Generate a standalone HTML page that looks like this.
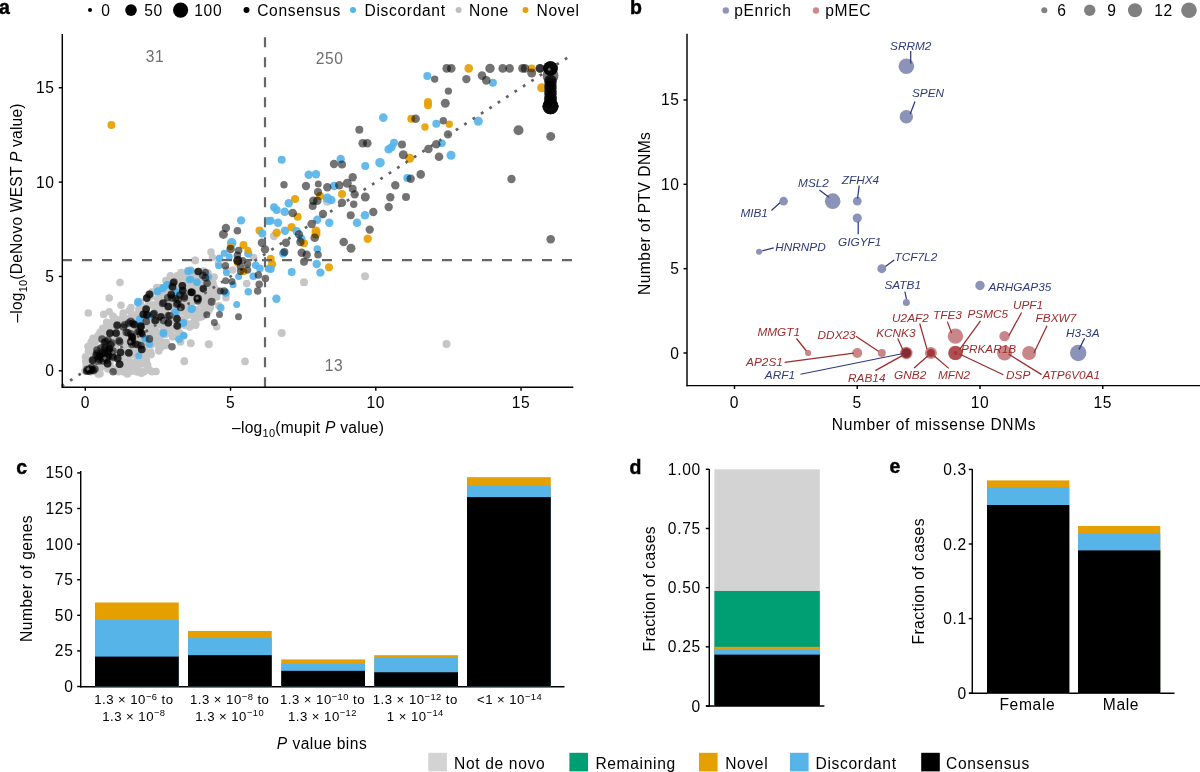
<!DOCTYPE html>
<html><head><meta charset="utf-8"><style>
html,body{margin:0;padding:0;background:#fff;}
svg{display:block;font-family:"Liberation Sans", sans-serif;will-change:transform;letter-spacing:0.65px;}
</style></head><body>
<svg width="1200" height="772" viewBox="0 0 1200 772">
<rect width="1200" height="772" fill="#fff"/>
<text x="-1.00" y="13.70" font-size="19.5" font-weight="bold" fill="#000" stroke="#000" stroke-width="0.45">a</text>
<text x="630.00" y="13.70" font-size="19.5" font-weight="bold" fill="#000" stroke="#000" stroke-width="0.45">b</text>
<text x="16.20" y="473.80" font-size="19.5" font-weight="bold" fill="#000" stroke="#000" stroke-width="0.45">c</text>
<text x="629.60" y="473.80" font-size="19.5" font-weight="bold" fill="#000" stroke="#000" stroke-width="0.45">d</text>
<text x="889.50" y="473.40" font-size="19.5" font-weight="bold" fill="#000" stroke="#000" stroke-width="0.45">e</text>
<circle cx="188.14" cy="270.79" r="3.80" fill="#C6C6C6" fill-opacity="1.0"/>
<circle cx="190.62" cy="270.06" r="3.80" fill="#C6C6C6" fill-opacity="1.0"/>
<circle cx="203.53" cy="271.07" r="3.80" fill="#C6C6C6" fill-opacity="1.0"/>
<circle cx="177.21" cy="275.71" r="3.80" fill="#C6C6C6" fill-opacity="1.0"/>
<circle cx="181.07" cy="272.52" r="3.80" fill="#C6C6C6" fill-opacity="1.0"/>
<circle cx="187.11" cy="272.95" r="3.80" fill="#C6C6C6" fill-opacity="1.0"/>
<circle cx="190.44" cy="272.65" r="3.80" fill="#C6C6C6" fill-opacity="1.0"/>
<circle cx="195.20" cy="272.81" r="3.80" fill="#C6C6C6" fill-opacity="1.0"/>
<circle cx="201.25" cy="273.22" r="3.80" fill="#C6C6C6" fill-opacity="1.0"/>
<circle cx="208.04" cy="273.16" r="3.80" fill="#C6C6C6" fill-opacity="1.0"/>
<circle cx="165.98" cy="280.66" r="3.80" fill="#C6C6C6" fill-opacity="1.0"/>
<circle cx="171.24" cy="278.23" r="3.80" fill="#C6C6C6" fill-opacity="1.0"/>
<circle cx="175.00" cy="278.33" r="3.80" fill="#C6C6C6" fill-opacity="1.0"/>
<circle cx="181.90" cy="278.81" r="3.80" fill="#C6C6C6" fill-opacity="1.0"/>
<circle cx="185.80" cy="278.82" r="3.80" fill="#C6C6C6" fill-opacity="1.0"/>
<circle cx="190.02" cy="277.86" r="3.80" fill="#C6C6C6" fill-opacity="1.0"/>
<circle cx="195.36" cy="278.40" r="3.80" fill="#C6C6C6" fill-opacity="1.0"/>
<circle cx="200.17" cy="276.89" r="3.80" fill="#C6C6C6" fill-opacity="1.0"/>
<circle cx="206.22" cy="277.73" r="3.80" fill="#C6C6C6" fill-opacity="1.0"/>
<circle cx="212.34" cy="278.92" r="3.80" fill="#C6C6C6" fill-opacity="1.0"/>
<circle cx="167.95" cy="282.61" r="3.80" fill="#C6C6C6" fill-opacity="1.0"/>
<circle cx="170.30" cy="282.66" r="3.80" fill="#C6C6C6" fill-opacity="1.0"/>
<circle cx="177.92" cy="282.42" r="3.80" fill="#C6C6C6" fill-opacity="1.0"/>
<circle cx="182.96" cy="285.50" r="3.80" fill="#C6C6C6" fill-opacity="1.0"/>
<circle cx="186.98" cy="283.13" r="3.80" fill="#C6C6C6" fill-opacity="1.0"/>
<circle cx="191.92" cy="284.33" r="3.80" fill="#C6C6C6" fill-opacity="1.0"/>
<circle cx="198.07" cy="284.07" r="3.80" fill="#C6C6C6" fill-opacity="1.0"/>
<circle cx="202.57" cy="281.91" r="3.80" fill="#C6C6C6" fill-opacity="1.0"/>
<circle cx="205.59" cy="282.62" r="3.80" fill="#C6C6C6" fill-opacity="1.0"/>
<circle cx="212.97" cy="282.82" r="3.80" fill="#C6C6C6" fill-opacity="1.0"/>
<circle cx="156.80" cy="287.61" r="3.80" fill="#C6C6C6" fill-opacity="1.0"/>
<circle cx="160.56" cy="287.78" r="3.80" fill="#C6C6C6" fill-opacity="1.0"/>
<circle cx="166.26" cy="289.76" r="3.80" fill="#C6C6C6" fill-opacity="1.0"/>
<circle cx="170.01" cy="289.40" r="3.80" fill="#C6C6C6" fill-opacity="1.0"/>
<circle cx="178.36" cy="286.88" r="3.80" fill="#C6C6C6" fill-opacity="1.0"/>
<circle cx="183.71" cy="289.25" r="3.80" fill="#C6C6C6" fill-opacity="1.0"/>
<circle cx="188.61" cy="287.56" r="3.80" fill="#C6C6C6" fill-opacity="1.0"/>
<circle cx="191.49" cy="287.97" r="3.80" fill="#C6C6C6" fill-opacity="1.0"/>
<circle cx="199.00" cy="288.76" r="3.80" fill="#C6C6C6" fill-opacity="1.0"/>
<circle cx="201.44" cy="288.11" r="3.80" fill="#C6C6C6" fill-opacity="1.0"/>
<circle cx="206.10" cy="286.59" r="3.80" fill="#C6C6C6" fill-opacity="1.0"/>
<circle cx="210.41" cy="289.74" r="3.80" fill="#C6C6C6" fill-opacity="1.0"/>
<circle cx="216.14" cy="290.14" r="3.80" fill="#C6C6C6" fill-opacity="1.0"/>
<circle cx="151.99" cy="292.08" r="3.80" fill="#C6C6C6" fill-opacity="1.0"/>
<circle cx="158.63" cy="295.19" r="3.80" fill="#C6C6C6" fill-opacity="1.0"/>
<circle cx="161.80" cy="291.76" r="3.80" fill="#C6C6C6" fill-opacity="1.0"/>
<circle cx="165.77" cy="291.56" r="3.80" fill="#C6C6C6" fill-opacity="1.0"/>
<circle cx="171.37" cy="291.56" r="3.80" fill="#C6C6C6" fill-opacity="1.0"/>
<circle cx="175.96" cy="292.23" r="3.80" fill="#C6C6C6" fill-opacity="1.0"/>
<circle cx="182.28" cy="294.75" r="3.80" fill="#C6C6C6" fill-opacity="1.0"/>
<circle cx="188.00" cy="292.85" r="3.80" fill="#C6C6C6" fill-opacity="1.0"/>
<circle cx="191.66" cy="293.30" r="3.80" fill="#C6C6C6" fill-opacity="1.0"/>
<circle cx="196.51" cy="292.55" r="3.80" fill="#C6C6C6" fill-opacity="1.0"/>
<circle cx="200.25" cy="292.31" r="3.80" fill="#C6C6C6" fill-opacity="1.0"/>
<circle cx="208.87" cy="291.70" r="3.80" fill="#C6C6C6" fill-opacity="1.0"/>
<circle cx="212.01" cy="293.72" r="3.80" fill="#C6C6C6" fill-opacity="1.0"/>
<circle cx="218.45" cy="292.06" r="3.80" fill="#C6C6C6" fill-opacity="1.0"/>
<circle cx="147.58" cy="297.22" r="3.80" fill="#C6C6C6" fill-opacity="1.0"/>
<circle cx="150.51" cy="297.01" r="3.80" fill="#C6C6C6" fill-opacity="1.0"/>
<circle cx="157.55" cy="298.79" r="3.80" fill="#C6C6C6" fill-opacity="1.0"/>
<circle cx="160.45" cy="296.28" r="3.80" fill="#C6C6C6" fill-opacity="1.0"/>
<circle cx="167.10" cy="298.33" r="3.80" fill="#C6C6C6" fill-opacity="1.0"/>
<circle cx="171.55" cy="296.89" r="3.80" fill="#C6C6C6" fill-opacity="1.0"/>
<circle cx="177.40" cy="296.04" r="3.80" fill="#C6C6C6" fill-opacity="1.0"/>
<circle cx="181.21" cy="297.84" r="3.80" fill="#C6C6C6" fill-opacity="1.0"/>
<circle cx="188.84" cy="298.58" r="3.80" fill="#C6C6C6" fill-opacity="1.0"/>
<circle cx="193.54" cy="297.90" r="3.80" fill="#C6C6C6" fill-opacity="1.0"/>
<circle cx="195.94" cy="296.99" r="3.80" fill="#C6C6C6" fill-opacity="1.0"/>
<circle cx="203.84" cy="298.82" r="3.80" fill="#C6C6C6" fill-opacity="1.0"/>
<circle cx="206.23" cy="296.09" r="3.80" fill="#C6C6C6" fill-opacity="1.0"/>
<circle cx="211.99" cy="298.70" r="3.80" fill="#C6C6C6" fill-opacity="1.0"/>
<circle cx="216.68" cy="297.03" r="3.80" fill="#C6C6C6" fill-opacity="1.0"/>
<circle cx="140.24" cy="302.37" r="3.80" fill="#C6C6C6" fill-opacity="1.0"/>
<circle cx="148.59" cy="304.33" r="3.80" fill="#C6C6C6" fill-opacity="1.0"/>
<circle cx="152.93" cy="304.79" r="3.80" fill="#C6C6C6" fill-opacity="1.0"/>
<circle cx="158.73" cy="302.12" r="3.80" fill="#C6C6C6" fill-opacity="1.0"/>
<circle cx="160.74" cy="304.54" r="3.80" fill="#C6C6C6" fill-opacity="1.0"/>
<circle cx="167.99" cy="300.93" r="3.80" fill="#C6C6C6" fill-opacity="1.0"/>
<circle cx="172.66" cy="302.31" r="3.80" fill="#C6C6C6" fill-opacity="1.0"/>
<circle cx="176.50" cy="302.13" r="3.80" fill="#C6C6C6" fill-opacity="1.0"/>
<circle cx="180.68" cy="300.81" r="3.80" fill="#C6C6C6" fill-opacity="1.0"/>
<circle cx="186.12" cy="302.21" r="3.80" fill="#C6C6C6" fill-opacity="1.0"/>
<circle cx="193.82" cy="301.29" r="3.80" fill="#C6C6C6" fill-opacity="1.0"/>
<circle cx="198.86" cy="301.63" r="3.80" fill="#C6C6C6" fill-opacity="1.0"/>
<circle cx="201.43" cy="304.09" r="3.80" fill="#C6C6C6" fill-opacity="1.0"/>
<circle cx="208.29" cy="302.53" r="3.80" fill="#C6C6C6" fill-opacity="1.0"/>
<circle cx="210.20" cy="302.69" r="3.80" fill="#C6C6C6" fill-opacity="1.0"/>
<circle cx="130.94" cy="307.50" r="3.80" fill="#C6C6C6" fill-opacity="1.0"/>
<circle cx="138.83" cy="309.42" r="3.80" fill="#C6C6C6" fill-opacity="1.0"/>
<circle cx="141.55" cy="306.60" r="3.80" fill="#C6C6C6" fill-opacity="1.0"/>
<circle cx="146.72" cy="307.57" r="3.80" fill="#C6C6C6" fill-opacity="1.0"/>
<circle cx="153.71" cy="306.33" r="3.80" fill="#C6C6C6" fill-opacity="1.0"/>
<circle cx="158.21" cy="308.55" r="3.80" fill="#C6C6C6" fill-opacity="1.0"/>
<circle cx="163.29" cy="308.69" r="3.80" fill="#C6C6C6" fill-opacity="1.0"/>
<circle cx="167.43" cy="306.91" r="3.80" fill="#C6C6C6" fill-opacity="1.0"/>
<circle cx="171.28" cy="307.05" r="3.80" fill="#C6C6C6" fill-opacity="1.0"/>
<circle cx="178.13" cy="305.92" r="3.80" fill="#C6C6C6" fill-opacity="1.0"/>
<circle cx="180.79" cy="308.61" r="3.80" fill="#C6C6C6" fill-opacity="1.0"/>
<circle cx="185.99" cy="305.86" r="3.80" fill="#C6C6C6" fill-opacity="1.0"/>
<circle cx="190.14" cy="307.81" r="3.80" fill="#C6C6C6" fill-opacity="1.0"/>
<circle cx="196.30" cy="309.52" r="3.80" fill="#C6C6C6" fill-opacity="1.0"/>
<circle cx="203.53" cy="309.55" r="3.80" fill="#C6C6C6" fill-opacity="1.0"/>
<circle cx="206.06" cy="305.94" r="3.80" fill="#C6C6C6" fill-opacity="1.0"/>
<circle cx="210.39" cy="307.59" r="3.80" fill="#C6C6C6" fill-opacity="1.0"/>
<circle cx="123.23" cy="313.01" r="3.80" fill="#C6C6C6" fill-opacity="1.0"/>
<circle cx="128.96" cy="310.81" r="3.80" fill="#C6C6C6" fill-opacity="1.0"/>
<circle cx="131.90" cy="313.68" r="3.80" fill="#C6C6C6" fill-opacity="1.0"/>
<circle cx="138.36" cy="314.06" r="3.80" fill="#C6C6C6" fill-opacity="1.0"/>
<circle cx="140.16" cy="311.57" r="3.80" fill="#C6C6C6" fill-opacity="1.0"/>
<circle cx="145.48" cy="311.16" r="3.80" fill="#C6C6C6" fill-opacity="1.0"/>
<circle cx="153.89" cy="312.73" r="3.80" fill="#C6C6C6" fill-opacity="1.0"/>
<circle cx="158.72" cy="311.89" r="3.80" fill="#C6C6C6" fill-opacity="1.0"/>
<circle cx="163.46" cy="312.20" r="3.80" fill="#C6C6C6" fill-opacity="1.0"/>
<circle cx="166.04" cy="313.51" r="3.80" fill="#C6C6C6" fill-opacity="1.0"/>
<circle cx="173.78" cy="310.82" r="3.80" fill="#C6C6C6" fill-opacity="1.0"/>
<circle cx="177.38" cy="312.88" r="3.80" fill="#C6C6C6" fill-opacity="1.0"/>
<circle cx="180.87" cy="311.87" r="3.80" fill="#C6C6C6" fill-opacity="1.0"/>
<circle cx="185.57" cy="311.22" r="3.80" fill="#C6C6C6" fill-opacity="1.0"/>
<circle cx="191.02" cy="312.80" r="3.80" fill="#C6C6C6" fill-opacity="1.0"/>
<circle cx="197.61" cy="311.21" r="3.80" fill="#C6C6C6" fill-opacity="1.0"/>
<circle cx="200.05" cy="311.71" r="3.80" fill="#C6C6C6" fill-opacity="1.0"/>
<circle cx="207.71" cy="311.14" r="3.80" fill="#C6C6C6" fill-opacity="1.0"/>
<circle cx="112.91" cy="316.01" r="3.80" fill="#C6C6C6" fill-opacity="1.0"/>
<circle cx="115.02" cy="318.81" r="3.80" fill="#C6C6C6" fill-opacity="1.0"/>
<circle cx="121.70" cy="318.48" r="3.80" fill="#C6C6C6" fill-opacity="1.0"/>
<circle cx="126.62" cy="318.73" r="3.80" fill="#C6C6C6" fill-opacity="1.0"/>
<circle cx="131.84" cy="315.85" r="3.80" fill="#C6C6C6" fill-opacity="1.0"/>
<circle cx="135.06" cy="317.41" r="3.80" fill="#C6C6C6" fill-opacity="1.0"/>
<circle cx="142.56" cy="318.84" r="3.80" fill="#C6C6C6" fill-opacity="1.0"/>
<circle cx="145.36" cy="317.69" r="3.80" fill="#C6C6C6" fill-opacity="1.0"/>
<circle cx="151.48" cy="317.22" r="3.80" fill="#C6C6C6" fill-opacity="1.0"/>
<circle cx="155.58" cy="316.33" r="3.80" fill="#C6C6C6" fill-opacity="1.0"/>
<circle cx="162.08" cy="318.90" r="3.80" fill="#C6C6C6" fill-opacity="1.0"/>
<circle cx="165.44" cy="317.16" r="3.80" fill="#C6C6C6" fill-opacity="1.0"/>
<circle cx="173.22" cy="319.07" r="3.80" fill="#C6C6C6" fill-opacity="1.0"/>
<circle cx="175.79" cy="315.71" r="3.80" fill="#C6C6C6" fill-opacity="1.0"/>
<circle cx="183.77" cy="319.10" r="3.80" fill="#C6C6C6" fill-opacity="1.0"/>
<circle cx="186.93" cy="315.41" r="3.80" fill="#C6C6C6" fill-opacity="1.0"/>
<circle cx="193.70" cy="316.75" r="3.80" fill="#C6C6C6" fill-opacity="1.0"/>
<circle cx="198.62" cy="317.68" r="3.80" fill="#C6C6C6" fill-opacity="1.0"/>
<circle cx="203.30" cy="315.84" r="3.80" fill="#C6C6C6" fill-opacity="1.0"/>
<circle cx="106.68" cy="322.33" r="3.80" fill="#C6C6C6" fill-opacity="1.0"/>
<circle cx="111.70" cy="322.64" r="3.80" fill="#C6C6C6" fill-opacity="1.0"/>
<circle cx="116.79" cy="321.75" r="3.80" fill="#C6C6C6" fill-opacity="1.0"/>
<circle cx="120.09" cy="322.48" r="3.80" fill="#C6C6C6" fill-opacity="1.0"/>
<circle cx="126.96" cy="320.94" r="3.80" fill="#C6C6C6" fill-opacity="1.0"/>
<circle cx="133.05" cy="323.12" r="3.80" fill="#C6C6C6" fill-opacity="1.0"/>
<circle cx="136.83" cy="320.72" r="3.80" fill="#C6C6C6" fill-opacity="1.0"/>
<circle cx="141.89" cy="320.43" r="3.80" fill="#C6C6C6" fill-opacity="1.0"/>
<circle cx="145.51" cy="321.72" r="3.80" fill="#C6C6C6" fill-opacity="1.0"/>
<circle cx="150.37" cy="321.77" r="3.80" fill="#C6C6C6" fill-opacity="1.0"/>
<circle cx="157.04" cy="320.16" r="3.80" fill="#C6C6C6" fill-opacity="1.0"/>
<circle cx="162.55" cy="320.33" r="3.80" fill="#C6C6C6" fill-opacity="1.0"/>
<circle cx="167.93" cy="323.11" r="3.80" fill="#C6C6C6" fill-opacity="1.0"/>
<circle cx="172.05" cy="320.22" r="3.80" fill="#C6C6C6" fill-opacity="1.0"/>
<circle cx="177.02" cy="321.51" r="3.80" fill="#C6C6C6" fill-opacity="1.0"/>
<circle cx="183.80" cy="320.54" r="3.80" fill="#C6C6C6" fill-opacity="1.0"/>
<circle cx="188.43" cy="323.98" r="3.80" fill="#C6C6C6" fill-opacity="1.0"/>
<circle cx="192.93" cy="323.26" r="3.80" fill="#C6C6C6" fill-opacity="1.0"/>
<circle cx="195.77" cy="323.93" r="3.80" fill="#C6C6C6" fill-opacity="1.0"/>
<circle cx="102.72" cy="328.38" r="3.80" fill="#C6C6C6" fill-opacity="1.0"/>
<circle cx="105.67" cy="327.94" r="3.80" fill="#C6C6C6" fill-opacity="1.0"/>
<circle cx="110.46" cy="326.92" r="3.80" fill="#C6C6C6" fill-opacity="1.0"/>
<circle cx="117.55" cy="326.24" r="3.80" fill="#C6C6C6" fill-opacity="1.0"/>
<circle cx="123.49" cy="327.02" r="3.80" fill="#C6C6C6" fill-opacity="1.0"/>
<circle cx="127.32" cy="328.33" r="3.80" fill="#C6C6C6" fill-opacity="1.0"/>
<circle cx="130.42" cy="328.77" r="3.80" fill="#C6C6C6" fill-opacity="1.0"/>
<circle cx="137.52" cy="326.38" r="3.80" fill="#C6C6C6" fill-opacity="1.0"/>
<circle cx="143.19" cy="325.86" r="3.80" fill="#C6C6C6" fill-opacity="1.0"/>
<circle cx="148.96" cy="327.11" r="3.80" fill="#C6C6C6" fill-opacity="1.0"/>
<circle cx="151.44" cy="327.86" r="3.80" fill="#C6C6C6" fill-opacity="1.0"/>
<circle cx="156.77" cy="325.51" r="3.80" fill="#C6C6C6" fill-opacity="1.0"/>
<circle cx="162.97" cy="324.99" r="3.80" fill="#C6C6C6" fill-opacity="1.0"/>
<circle cx="168.28" cy="325.81" r="3.80" fill="#C6C6C6" fill-opacity="1.0"/>
<circle cx="172.56" cy="328.74" r="3.80" fill="#C6C6C6" fill-opacity="1.0"/>
<circle cx="177.34" cy="327.45" r="3.80" fill="#C6C6C6" fill-opacity="1.0"/>
<circle cx="181.25" cy="324.81" r="3.80" fill="#C6C6C6" fill-opacity="1.0"/>
<circle cx="185.14" cy="325.40" r="3.80" fill="#C6C6C6" fill-opacity="1.0"/>
<circle cx="100.05" cy="332.18" r="3.80" fill="#C6C6C6" fill-opacity="1.0"/>
<circle cx="107.25" cy="331.00" r="3.80" fill="#C6C6C6" fill-opacity="1.0"/>
<circle cx="112.58" cy="331.38" r="3.80" fill="#C6C6C6" fill-opacity="1.0"/>
<circle cx="118.75" cy="332.53" r="3.80" fill="#C6C6C6" fill-opacity="1.0"/>
<circle cx="120.99" cy="333.21" r="3.80" fill="#C6C6C6" fill-opacity="1.0"/>
<circle cx="125.18" cy="331.73" r="3.80" fill="#C6C6C6" fill-opacity="1.0"/>
<circle cx="131.62" cy="330.55" r="3.80" fill="#C6C6C6" fill-opacity="1.0"/>
<circle cx="135.23" cy="332.72" r="3.80" fill="#C6C6C6" fill-opacity="1.0"/>
<circle cx="140.05" cy="331.80" r="3.80" fill="#C6C6C6" fill-opacity="1.0"/>
<circle cx="148.76" cy="330.17" r="3.80" fill="#C6C6C6" fill-opacity="1.0"/>
<circle cx="150.80" cy="332.03" r="3.80" fill="#C6C6C6" fill-opacity="1.0"/>
<circle cx="157.03" cy="332.17" r="3.80" fill="#C6C6C6" fill-opacity="1.0"/>
<circle cx="163.25" cy="330.30" r="3.80" fill="#C6C6C6" fill-opacity="1.0"/>
<circle cx="166.24" cy="330.80" r="3.80" fill="#C6C6C6" fill-opacity="1.0"/>
<circle cx="170.19" cy="333.16" r="3.80" fill="#C6C6C6" fill-opacity="1.0"/>
<circle cx="178.13" cy="332.46" r="3.80" fill="#C6C6C6" fill-opacity="1.0"/>
<circle cx="180.03" cy="332.98" r="3.80" fill="#C6C6C6" fill-opacity="1.0"/>
<circle cx="92.98" cy="338.18" r="3.80" fill="#C6C6C6" fill-opacity="1.0"/>
<circle cx="97.98" cy="335.71" r="3.80" fill="#C6C6C6" fill-opacity="1.0"/>
<circle cx="103.52" cy="335.71" r="3.80" fill="#C6C6C6" fill-opacity="1.0"/>
<circle cx="105.96" cy="338.03" r="3.80" fill="#C6C6C6" fill-opacity="1.0"/>
<circle cx="112.52" cy="337.17" r="3.80" fill="#C6C6C6" fill-opacity="1.0"/>
<circle cx="117.66" cy="338.32" r="3.80" fill="#C6C6C6" fill-opacity="1.0"/>
<circle cx="121.88" cy="337.76" r="3.80" fill="#C6C6C6" fill-opacity="1.0"/>
<circle cx="127.79" cy="337.83" r="3.80" fill="#C6C6C6" fill-opacity="1.0"/>
<circle cx="131.75" cy="337.30" r="3.80" fill="#C6C6C6" fill-opacity="1.0"/>
<circle cx="137.28" cy="335.63" r="3.80" fill="#C6C6C6" fill-opacity="1.0"/>
<circle cx="140.85" cy="336.89" r="3.80" fill="#C6C6C6" fill-opacity="1.0"/>
<circle cx="145.31" cy="338.04" r="3.80" fill="#C6C6C6" fill-opacity="1.0"/>
<circle cx="150.58" cy="334.51" r="3.80" fill="#C6C6C6" fill-opacity="1.0"/>
<circle cx="155.43" cy="338.12" r="3.80" fill="#C6C6C6" fill-opacity="1.0"/>
<circle cx="161.38" cy="334.97" r="3.80" fill="#C6C6C6" fill-opacity="1.0"/>
<circle cx="165.11" cy="334.57" r="3.80" fill="#C6C6C6" fill-opacity="1.0"/>
<circle cx="172.77" cy="336.94" r="3.80" fill="#C6C6C6" fill-opacity="1.0"/>
<circle cx="91.13" cy="342.06" r="3.80" fill="#C6C6C6" fill-opacity="1.0"/>
<circle cx="96.47" cy="340.48" r="3.80" fill="#C6C6C6" fill-opacity="1.0"/>
<circle cx="103.86" cy="341.21" r="3.80" fill="#C6C6C6" fill-opacity="1.0"/>
<circle cx="108.41" cy="341.67" r="3.80" fill="#C6C6C6" fill-opacity="1.0"/>
<circle cx="110.12" cy="340.85" r="3.80" fill="#C6C6C6" fill-opacity="1.0"/>
<circle cx="116.75" cy="342.29" r="3.80" fill="#C6C6C6" fill-opacity="1.0"/>
<circle cx="121.39" cy="342.02" r="3.80" fill="#C6C6C6" fill-opacity="1.0"/>
<circle cx="127.15" cy="340.07" r="3.80" fill="#C6C6C6" fill-opacity="1.0"/>
<circle cx="133.45" cy="339.56" r="3.80" fill="#C6C6C6" fill-opacity="1.0"/>
<circle cx="138.28" cy="339.88" r="3.80" fill="#C6C6C6" fill-opacity="1.0"/>
<circle cx="140.01" cy="340.01" r="3.80" fill="#C6C6C6" fill-opacity="1.0"/>
<circle cx="148.05" cy="343.11" r="3.80" fill="#C6C6C6" fill-opacity="1.0"/>
<circle cx="150.02" cy="341.16" r="3.80" fill="#C6C6C6" fill-opacity="1.0"/>
<circle cx="156.97" cy="342.39" r="3.80" fill="#C6C6C6" fill-opacity="1.0"/>
<circle cx="160.74" cy="341.18" r="3.80" fill="#C6C6C6" fill-opacity="1.0"/>
<circle cx="166.39" cy="342.53" r="3.80" fill="#C6C6C6" fill-opacity="1.0"/>
<circle cx="88.01" cy="346.59" r="3.80" fill="#C6C6C6" fill-opacity="1.0"/>
<circle cx="91.39" cy="345.31" r="3.80" fill="#C6C6C6" fill-opacity="1.0"/>
<circle cx="95.62" cy="347.37" r="3.80" fill="#C6C6C6" fill-opacity="1.0"/>
<circle cx="102.65" cy="346.97" r="3.80" fill="#C6C6C6" fill-opacity="1.0"/>
<circle cx="105.68" cy="345.76" r="3.80" fill="#C6C6C6" fill-opacity="1.0"/>
<circle cx="113.09" cy="346.32" r="3.80" fill="#C6C6C6" fill-opacity="1.0"/>
<circle cx="115.50" cy="345.85" r="3.80" fill="#C6C6C6" fill-opacity="1.0"/>
<circle cx="123.54" cy="344.95" r="3.80" fill="#C6C6C6" fill-opacity="1.0"/>
<circle cx="125.77" cy="345.21" r="3.80" fill="#C6C6C6" fill-opacity="1.0"/>
<circle cx="132.81" cy="347.37" r="3.80" fill="#C6C6C6" fill-opacity="1.0"/>
<circle cx="135.62" cy="344.62" r="3.80" fill="#C6C6C6" fill-opacity="1.0"/>
<circle cx="140.99" cy="345.31" r="3.80" fill="#C6C6C6" fill-opacity="1.0"/>
<circle cx="147.09" cy="344.64" r="3.80" fill="#C6C6C6" fill-opacity="1.0"/>
<circle cx="151.31" cy="344.76" r="3.80" fill="#C6C6C6" fill-opacity="1.0"/>
<circle cx="158.90" cy="346.91" r="3.80" fill="#C6C6C6" fill-opacity="1.0"/>
<circle cx="160.41" cy="347.85" r="3.80" fill="#C6C6C6" fill-opacity="1.0"/>
<circle cx="165.41" cy="345.54" r="3.80" fill="#C6C6C6" fill-opacity="1.0"/>
<circle cx="88.41" cy="351.52" r="3.80" fill="#C6C6C6" fill-opacity="1.0"/>
<circle cx="92.57" cy="350.62" r="3.80" fill="#C6C6C6" fill-opacity="1.0"/>
<circle cx="96.25" cy="351.31" r="3.80" fill="#C6C6C6" fill-opacity="1.0"/>
<circle cx="100.39" cy="350.48" r="3.80" fill="#C6C6C6" fill-opacity="1.0"/>
<circle cx="108.13" cy="351.65" r="3.80" fill="#C6C6C6" fill-opacity="1.0"/>
<circle cx="112.52" cy="349.80" r="3.80" fill="#C6C6C6" fill-opacity="1.0"/>
<circle cx="116.69" cy="350.62" r="3.80" fill="#C6C6C6" fill-opacity="1.0"/>
<circle cx="122.49" cy="350.44" r="3.80" fill="#C6C6C6" fill-opacity="1.0"/>
<circle cx="127.70" cy="352.52" r="3.80" fill="#C6C6C6" fill-opacity="1.0"/>
<circle cx="130.73" cy="351.42" r="3.80" fill="#C6C6C6" fill-opacity="1.0"/>
<circle cx="138.11" cy="350.35" r="3.80" fill="#C6C6C6" fill-opacity="1.0"/>
<circle cx="141.96" cy="352.70" r="3.80" fill="#C6C6C6" fill-opacity="1.0"/>
<circle cx="145.15" cy="350.97" r="3.80" fill="#C6C6C6" fill-opacity="1.0"/>
<circle cx="150.64" cy="351.93" r="3.80" fill="#C6C6C6" fill-opacity="1.0"/>
<circle cx="158.76" cy="350.88" r="3.80" fill="#C6C6C6" fill-opacity="1.0"/>
<circle cx="85.52" cy="356.71" r="3.80" fill="#C6C6C6" fill-opacity="1.0"/>
<circle cx="93.24" cy="356.14" r="3.80" fill="#C6C6C6" fill-opacity="1.0"/>
<circle cx="96.88" cy="355.85" r="3.80" fill="#C6C6C6" fill-opacity="1.0"/>
<circle cx="100.90" cy="357.46" r="3.80" fill="#C6C6C6" fill-opacity="1.0"/>
<circle cx="106.41" cy="356.16" r="3.80" fill="#C6C6C6" fill-opacity="1.0"/>
<circle cx="113.27" cy="356.86" r="3.80" fill="#C6C6C6" fill-opacity="1.0"/>
<circle cx="116.87" cy="354.78" r="3.80" fill="#C6C6C6" fill-opacity="1.0"/>
<circle cx="122.19" cy="354.10" r="3.80" fill="#C6C6C6" fill-opacity="1.0"/>
<circle cx="128.33" cy="355.02" r="3.80" fill="#C6C6C6" fill-opacity="1.0"/>
<circle cx="133.40" cy="354.67" r="3.80" fill="#C6C6C6" fill-opacity="1.0"/>
<circle cx="136.50" cy="354.61" r="3.80" fill="#C6C6C6" fill-opacity="1.0"/>
<circle cx="141.70" cy="354.34" r="3.80" fill="#C6C6C6" fill-opacity="1.0"/>
<circle cx="145.01" cy="356.49" r="3.80" fill="#C6C6C6" fill-opacity="1.0"/>
<circle cx="151.12" cy="354.58" r="3.80" fill="#C6C6C6" fill-opacity="1.0"/>
<circle cx="85.79" cy="361.17" r="3.80" fill="#C6C6C6" fill-opacity="1.0"/>
<circle cx="92.12" cy="361.37" r="3.80" fill="#C6C6C6" fill-opacity="1.0"/>
<circle cx="96.75" cy="361.93" r="3.80" fill="#C6C6C6" fill-opacity="1.0"/>
<circle cx="102.22" cy="359.46" r="3.80" fill="#C6C6C6" fill-opacity="1.0"/>
<circle cx="105.94" cy="358.96" r="3.80" fill="#C6C6C6" fill-opacity="1.0"/>
<circle cx="111.97" cy="358.63" r="3.80" fill="#C6C6C6" fill-opacity="1.0"/>
<circle cx="116.87" cy="358.98" r="3.80" fill="#C6C6C6" fill-opacity="1.0"/>
<circle cx="121.97" cy="360.39" r="3.80" fill="#C6C6C6" fill-opacity="1.0"/>
<circle cx="127.16" cy="361.85" r="3.80" fill="#C6C6C6" fill-opacity="1.0"/>
<circle cx="130.03" cy="361.76" r="3.80" fill="#C6C6C6" fill-opacity="1.0"/>
<circle cx="136.87" cy="360.65" r="3.80" fill="#C6C6C6" fill-opacity="1.0"/>
<circle cx="142.66" cy="361.76" r="3.80" fill="#C6C6C6" fill-opacity="1.0"/>
<circle cx="146.50" cy="360.08" r="3.80" fill="#C6C6C6" fill-opacity="1.0"/>
<circle cx="86.20" cy="365.55" r="3.80" fill="#C6C6C6" fill-opacity="1.0"/>
<circle cx="92.54" cy="366.34" r="3.80" fill="#C6C6C6" fill-opacity="1.0"/>
<circle cx="95.16" cy="366.09" r="3.80" fill="#C6C6C6" fill-opacity="1.0"/>
<circle cx="103.54" cy="365.38" r="3.80" fill="#C6C6C6" fill-opacity="1.0"/>
<circle cx="105.20" cy="364.40" r="3.80" fill="#C6C6C6" fill-opacity="1.0"/>
<circle cx="110.02" cy="363.96" r="3.80" fill="#C6C6C6" fill-opacity="1.0"/>
<circle cx="118.69" cy="365.63" r="3.80" fill="#C6C6C6" fill-opacity="1.0"/>
<circle cx="122.63" cy="366.36" r="3.80" fill="#C6C6C6" fill-opacity="1.0"/>
<circle cx="128.64" cy="365.65" r="3.80" fill="#C6C6C6" fill-opacity="1.0"/>
<circle cx="132.47" cy="365.71" r="3.80" fill="#C6C6C6" fill-opacity="1.0"/>
<circle cx="137.79" cy="365.59" r="3.80" fill="#C6C6C6" fill-opacity="1.0"/>
<circle cx="142.72" cy="364.05" r="3.80" fill="#C6C6C6" fill-opacity="1.0"/>
<circle cx="147.67" cy="365.03" r="3.80" fill="#C6C6C6" fill-opacity="1.0"/>
<circle cx="85.02" cy="370.74" r="3.80" fill="#C6C6C6" fill-opacity="1.0"/>
<circle cx="90.49" cy="371.87" r="3.80" fill="#C6C6C6" fill-opacity="1.0"/>
<circle cx="95.35" cy="371.48" r="3.80" fill="#C6C6C6" fill-opacity="1.0"/>
<circle cx="100.52" cy="368.07" r="3.80" fill="#C6C6C6" fill-opacity="1.0"/>
<circle cx="107.88" cy="368.97" r="3.80" fill="#C6C6C6" fill-opacity="1.0"/>
<circle cx="112.93" cy="368.75" r="3.80" fill="#C6C6C6" fill-opacity="1.0"/>
<circle cx="115.20" cy="371.10" r="3.80" fill="#C6C6C6" fill-opacity="1.0"/>
<circle cx="122.85" cy="371.42" r="3.80" fill="#C6C6C6" fill-opacity="1.0"/>
<circle cx="127.92" cy="368.34" r="3.80" fill="#C6C6C6" fill-opacity="1.0"/>
<circle cx="132.51" cy="370.84" r="3.80" fill="#C6C6C6" fill-opacity="1.0"/>
<circle cx="136.84" cy="371.73" r="3.80" fill="#C6C6C6" fill-opacity="1.0"/>
<circle cx="141.02" cy="371.86" r="3.80" fill="#C6C6C6" fill-opacity="1.0"/>
<circle cx="147.87" cy="368.05" r="3.80" fill="#C6C6C6" fill-opacity="1.0"/>
<circle cx="150.06" cy="370.60" r="3.80" fill="#C6C6C6" fill-opacity="1.0"/>
<circle cx="98.23" cy="373.93" r="3.80" fill="#C6C6C6" fill-opacity="1.0"/>
<circle cx="100.01" cy="373.85" r="3.80" fill="#C6C6C6" fill-opacity="1.0"/>
<circle cx="127.29" cy="373.90" r="3.80" fill="#C6C6C6" fill-opacity="1.0"/>
<circle cx="141.39" cy="373.14" r="3.80" fill="#C6C6C6" fill-opacity="1.0"/>
<circle cx="211.00" cy="252.10" r="3.80" fill="#C6C6C6" fill-opacity="1.0"/>
<circle cx="195.00" cy="260.30" r="3.80" fill="#C6C6C6" fill-opacity="1.0"/>
<circle cx="212.50" cy="257.50" r="3.80" fill="#C6C6C6" fill-opacity="1.0"/>
<circle cx="218.40" cy="263.40" r="3.80" fill="#C6C6C6" fill-opacity="1.0"/>
<circle cx="226.50" cy="270.00" r="3.80" fill="#C6C6C6" fill-opacity="1.0"/>
<circle cx="232.70" cy="270.00" r="3.80" fill="#C6C6C6" fill-opacity="1.0"/>
<circle cx="253.70" cy="257.50" r="3.80" fill="#C6C6C6" fill-opacity="1.0"/>
<circle cx="246.70" cy="283.60" r="3.80" fill="#C6C6C6" fill-opacity="1.0"/>
<circle cx="214.10" cy="277.00" r="3.80" fill="#C6C6C6" fill-opacity="1.0"/>
<circle cx="214.10" cy="287.00" r="3.80" fill="#C6C6C6" fill-opacity="1.0"/>
<circle cx="193.10" cy="276.20" r="3.80" fill="#C6C6C6" fill-opacity="1.0"/>
<circle cx="197.00" cy="284.70" r="3.80" fill="#C6C6C6" fill-opacity="1.0"/>
<circle cx="197.00" cy="292.10" r="3.80" fill="#C6C6C6" fill-opacity="1.0"/>
<circle cx="218.90" cy="305.70" r="3.80" fill="#C6C6C6" fill-opacity="1.0"/>
<circle cx="226.00" cy="297.70" r="3.80" fill="#C6C6C6" fill-opacity="1.0"/>
<circle cx="208.80" cy="310.30" r="3.80" fill="#C6C6C6" fill-opacity="1.0"/>
<circle cx="216.70" cy="326.70" r="3.80" fill="#C6C6C6" fill-opacity="1.0"/>
<circle cx="202.00" cy="316.70" r="3.80" fill="#C6C6C6" fill-opacity="1.0"/>
<circle cx="195.50" cy="325.20" r="3.80" fill="#C6C6C6" fill-opacity="1.0"/>
<circle cx="189.70" cy="327.10" r="3.80" fill="#C6C6C6" fill-opacity="1.0"/>
<circle cx="191.00" cy="343.30" r="3.20" fill="#C6C6C6" fill-opacity="1.0"/>
<circle cx="208.80" cy="344.30" r="4.00" fill="#C6C6C6" fill-opacity="1.0"/>
<circle cx="184.30" cy="361.40" r="3.80" fill="#C6C6C6" fill-opacity="1.0"/>
<circle cx="245.00" cy="361.40" r="3.80" fill="#C6C6C6" fill-opacity="1.0"/>
<circle cx="180.60" cy="342.00" r="3.80" fill="#C6C6C6" fill-opacity="1.0"/>
<circle cx="195.30" cy="260.60" r="3.80" fill="#C6C6C6" fill-opacity="1.0"/>
<circle cx="194.50" cy="276.50" r="3.80" fill="#C6C6C6" fill-opacity="1.0"/>
<circle cx="196.40" cy="285.00" r="3.80" fill="#C6C6C6" fill-opacity="1.0"/>
<circle cx="170.40" cy="275.70" r="3.80" fill="#C6C6C6" fill-opacity="1.0"/>
<circle cx="178.20" cy="276.50" r="3.80" fill="#C6C6C6" fill-opacity="1.0"/>
<circle cx="181.70" cy="282.30" r="3.80" fill="#C6C6C6" fill-opacity="1.0"/>
<circle cx="162.60" cy="294.40" r="3.80" fill="#C6C6C6" fill-opacity="1.0"/>
<circle cx="190.60" cy="343.20" r="3.80" fill="#C6C6C6" fill-opacity="1.0"/>
<circle cx="118.50" cy="371.70" r="3.80" fill="#C6C6C6" fill-opacity="1.0"/>
<circle cx="123.20" cy="371.70" r="3.80" fill="#C6C6C6" fill-opacity="1.0"/>
<circle cx="129.40" cy="371.70" r="3.80" fill="#C6C6C6" fill-opacity="1.0"/>
<circle cx="137.20" cy="371.70" r="3.80" fill="#C6C6C6" fill-opacity="1.0"/>
<circle cx="144.20" cy="371.70" r="3.80" fill="#C6C6C6" fill-opacity="1.0"/>
<circle cx="152.00" cy="371.70" r="3.80" fill="#C6C6C6" fill-opacity="1.0"/>
<circle cx="156.00" cy="371.50" r="3.80" fill="#C6C6C6" fill-opacity="1.0"/>
<circle cx="120.00" cy="282.60" r="3.80" fill="#C6C6C6" fill-opacity="1.0"/>
<circle cx="109.20" cy="298.00" r="3.80" fill="#C6C6C6" fill-opacity="1.0"/>
<circle cx="88.30" cy="313.00" r="3.80" fill="#C6C6C6" fill-opacity="1.0"/>
<circle cx="103.70" cy="314.40" r="3.80" fill="#C6C6C6" fill-opacity="1.0"/>
<circle cx="109.20" cy="311.70" r="3.80" fill="#C6C6C6" fill-opacity="1.0"/>
<circle cx="121.00" cy="305.30" r="3.80" fill="#C6C6C6" fill-opacity="1.0"/>
<circle cx="184.40" cy="361.00" r="3.80" fill="#C6C6C6" fill-opacity="1.0"/>
<circle cx="190.80" cy="343.40" r="3.80" fill="#C6C6C6" fill-opacity="1.0"/>
<circle cx="327.30" cy="201.30" r="4.50" fill="#C6C6C6" fill-opacity="1.0"/>
<circle cx="274.00" cy="236.00" r="4.20" fill="#C6C6C6" fill-opacity="1.0"/>
<circle cx="304.00" cy="282.30" r="4.00" fill="#C6C6C6" fill-opacity="1.0"/>
<circle cx="365.00" cy="276.30" r="4.00" fill="#C6C6C6" fill-opacity="1.0"/>
<circle cx="281.70" cy="333.00" r="4.00" fill="#C6C6C6" fill-opacity="1.0"/>
<circle cx="446.50" cy="344.00" r="4.00" fill="#C6C6C6" fill-opacity="1.0"/>
<circle cx="231.70" cy="242.80" r="4.80" fill="#56B4E9" fill-opacity="0.92"/>
<circle cx="248.30" cy="253.60" r="4.20" fill="#56B4E9" fill-opacity="0.92"/>
<circle cx="224.20" cy="253.30" r="3.50" fill="#56B4E9" fill-opacity="0.92"/>
<circle cx="229.20" cy="256.80" r="3.50" fill="#56B4E9" fill-opacity="0.92"/>
<circle cx="219.50" cy="258.30" r="3.80" fill="#56B4E9" fill-opacity="0.92"/>
<circle cx="218.70" cy="265.70" r="3.50" fill="#56B4E9" fill-opacity="0.92"/>
<circle cx="226.50" cy="272.70" r="3.50" fill="#56B4E9" fill-opacity="0.92"/>
<circle cx="255.70" cy="265.30" r="3.80" fill="#56B4E9" fill-opacity="0.92"/>
<circle cx="259.90" cy="268.40" r="3.80" fill="#56B4E9" fill-opacity="0.92"/>
<circle cx="268.50" cy="268.80" r="3.80" fill="#56B4E9" fill-opacity="0.92"/>
<circle cx="253.30" cy="276.20" r="3.80" fill="#56B4E9" fill-opacity="0.92"/>
<circle cx="248.30" cy="291.70" r="3.80" fill="#56B4E9" fill-opacity="0.92"/>
<circle cx="238.60" cy="276.60" r="3.50" fill="#56B4E9" fill-opacity="0.92"/>
<circle cx="233.10" cy="284.70" r="3.50" fill="#56B4E9" fill-opacity="0.92"/>
<circle cx="225.40" cy="292.50" r="3.80" fill="#56B4E9" fill-opacity="0.92"/>
<circle cx="208.60" cy="277.00" r="3.50" fill="#56B4E9" fill-opacity="0.92"/>
<circle cx="197.00" cy="282.40" r="3.50" fill="#56B4E9" fill-opacity="0.92"/>
<circle cx="190.80" cy="270.70" r="3.50" fill="#56B4E9" fill-opacity="0.92"/>
<circle cx="190.80" cy="279.30" r="3.50" fill="#56B4E9" fill-opacity="0.92"/>
<circle cx="220.80" cy="307.70" r="3.80" fill="#56B4E9" fill-opacity="0.92"/>
<circle cx="236.70" cy="304.40" r="3.50" fill="#56B4E9" fill-opacity="0.92"/>
<circle cx="191.70" cy="309.00" r="4.00" fill="#56B4E9" fill-opacity="0.92"/>
<circle cx="183.20" cy="323.20" r="3.50" fill="#56B4E9" fill-opacity="0.92"/>
<circle cx="183.90" cy="335.50" r="3.50" fill="#56B4E9" fill-opacity="0.92"/>
<circle cx="226.00" cy="293.00" r="3.80" fill="#56B4E9" fill-opacity="0.92"/>
<circle cx="188.10" cy="271.10" r="3.90" fill="#56B4E9" fill-opacity="0.92"/>
<circle cx="189.40" cy="279.60" r="3.60" fill="#56B4E9" fill-opacity="0.92"/>
<circle cx="196.80" cy="282.00" r="3.80" fill="#56B4E9" fill-opacity="0.92"/>
<circle cx="167.30" cy="284.70" r="3.80" fill="#56B4E9" fill-opacity="0.92"/>
<circle cx="163.40" cy="287.80" r="3.80" fill="#56B4E9" fill-opacity="0.92"/>
<circle cx="157.60" cy="291.30" r="3.80" fill="#56B4E9" fill-opacity="0.92"/>
<circle cx="176.60" cy="292.10" r="3.00" fill="#56B4E9" fill-opacity="0.92"/>
<circle cx="138.20" cy="301.60" r="3.80" fill="#56B4E9" fill-opacity="0.92"/>
<circle cx="191.40" cy="309.00" r="3.80" fill="#56B4E9" fill-opacity="0.92"/>
<circle cx="175.00" cy="312.50" r="3.80" fill="#56B4E9" fill-opacity="0.92"/>
<circle cx="183.20" cy="323.00" r="3.80" fill="#56B4E9" fill-opacity="0.92"/>
<circle cx="163.40" cy="333.50" r="3.80" fill="#56B4E9" fill-opacity="0.92"/>
<circle cx="183.60" cy="335.80" r="3.80" fill="#56B4E9" fill-opacity="0.92"/>
<circle cx="179.00" cy="339.30" r="3.80" fill="#56B4E9" fill-opacity="0.92"/>
<circle cx="149.40" cy="344.00" r="3.80" fill="#56B4E9" fill-opacity="0.92"/>
<circle cx="139.70" cy="319.10" r="3.80" fill="#56B4E9" fill-opacity="0.92"/>
<circle cx="148.60" cy="316.00" r="3.80" fill="#56B4E9" fill-opacity="0.92"/>
<circle cx="145.50" cy="338.50" r="3.80" fill="#56B4E9" fill-opacity="0.92"/>
<circle cx="138.70" cy="355.70" r="3.50" fill="#56B4E9" fill-opacity="0.92"/>
<circle cx="145.00" cy="338.60" r="3.50" fill="#56B4E9" fill-opacity="0.92"/>
<circle cx="140.30" cy="320.80" r="3.50" fill="#56B4E9" fill-opacity="0.92"/>
<circle cx="230.40" cy="246.70" r="3.50" fill="#E69F00" fill-opacity="0.92"/>
<circle cx="243.50" cy="245.10" r="4.00" fill="#E69F00" fill-opacity="0.92"/>
<circle cx="247.90" cy="250.20" r="3.50" fill="#E69F00" fill-opacity="0.92"/>
<circle cx="237.40" cy="263.00" r="3.50" fill="#E69F00" fill-opacity="0.92"/>
<circle cx="243.60" cy="271.50" r="3.80" fill="#E69F00" fill-opacity="0.92"/>
<circle cx="157.80" cy="291.40" r="3.80" fill="#56B4E9" fill-opacity="0.92"/>
<circle cx="162.80" cy="288.50" r="3.80" fill="#56B4E9" fill-opacity="0.92"/>
<circle cx="167.00" cy="285.00" r="3.80" fill="#56B4E9" fill-opacity="0.92"/>
<circle cx="192.00" cy="308.50" r="3.80" fill="#56B4E9" fill-opacity="0.92"/>
<circle cx="183.40" cy="322.70" r="3.80" fill="#56B4E9" fill-opacity="0.92"/>
<circle cx="175.60" cy="312.00" r="3.80" fill="#56B4E9" fill-opacity="0.92"/>
<circle cx="140.00" cy="319.90" r="3.80" fill="#56B4E9" fill-opacity="0.92"/>
<circle cx="137.80" cy="302.80" r="3.80" fill="#56B4E9" fill-opacity="0.92"/>
<circle cx="163.50" cy="332.70" r="3.80" fill="#56B4E9" fill-opacity="0.92"/>
<circle cx="177.00" cy="292.10" r="3.80" fill="#56B4E9" fill-opacity="0.92"/>
<circle cx="468.70" cy="68.40" r="4.30" fill="#E69F00" fill-opacity="0.92"/>
<circle cx="531.70" cy="68.40" r="4.00" fill="#E69F00" fill-opacity="0.92"/>
<circle cx="427.30" cy="76.00" r="4.00" fill="#56B4E9" fill-opacity="0.92"/>
<circle cx="492.90" cy="82.70" r="4.00" fill="#56B4E9" fill-opacity="0.92"/>
<circle cx="541.60" cy="87.70" r="4.50" fill="#E69F00" fill-opacity="0.92"/>
<circle cx="428.00" cy="102.00" r="4.00" fill="#E69F00" fill-opacity="0.92"/>
<circle cx="428.00" cy="105.30" r="4.00" fill="#E69F00" fill-opacity="0.92"/>
<circle cx="478.30" cy="121.30" r="4.50" fill="#56B4E9" fill-opacity="0.92"/>
<circle cx="436.30" cy="123.70" r="4.00" fill="#56B4E9" fill-opacity="0.92"/>
<circle cx="449.30" cy="124.30" r="3.70" fill="#E69F00" fill-opacity="0.92"/>
<circle cx="425.00" cy="127.00" r="3.70" fill="#E69F00" fill-opacity="0.92"/>
<circle cx="442.00" cy="143.30" r="3.80" fill="#56B4E9" fill-opacity="0.92"/>
<circle cx="451.00" cy="155.30" r="4.50" fill="#56B4E9" fill-opacity="0.92"/>
<circle cx="383.30" cy="117.60" r="4.30" fill="#56B4E9" fill-opacity="0.92"/>
<circle cx="411.30" cy="118.70" r="4.00" fill="#E69F00" fill-opacity="0.92"/>
<circle cx="394.00" cy="142.70" r="4.00" fill="#56B4E9" fill-opacity="0.92"/>
<circle cx="388.70" cy="149.30" r="4.30" fill="#56B4E9" fill-opacity="0.92"/>
<circle cx="391.60" cy="147.30" r="4.00" fill="#56B4E9" fill-opacity="0.92"/>
<circle cx="409.70" cy="158.30" r="4.50" fill="#E69F00" fill-opacity="0.92"/>
<circle cx="281.70" cy="159.70" r="4.00" fill="#56B4E9" fill-opacity="0.92"/>
<circle cx="340.70" cy="159.00" r="4.20" fill="#56B4E9" fill-opacity="0.92"/>
<circle cx="365.30" cy="166.00" r="4.00" fill="#56B4E9" fill-opacity="0.92"/>
<circle cx="380.00" cy="162.70" r="4.80" fill="#56B4E9" fill-opacity="0.92"/>
<circle cx="308.70" cy="174.70" r="4.20" fill="#56B4E9" fill-opacity="0.92"/>
<circle cx="316.00" cy="174.30" r="4.20" fill="#56B4E9" fill-opacity="0.92"/>
<circle cx="334.00" cy="186.00" r="4.20" fill="#56B4E9" fill-opacity="0.92"/>
<circle cx="407.30" cy="178.00" r="4.00" fill="#56B4E9" fill-opacity="0.92"/>
<circle cx="320.00" cy="196.00" r="4.00" fill="#E69F00" fill-opacity="0.92"/>
<circle cx="327.30" cy="198.00" r="4.50" fill="#56B4E9" fill-opacity="0.92"/>
<circle cx="331.30" cy="200.00" r="4.30" fill="#56B4E9" fill-opacity="0.92"/>
<circle cx="342.00" cy="194.00" r="4.00" fill="#E69F00" fill-opacity="0.92"/>
<circle cx="365.00" cy="215.30" r="4.30" fill="#56B4E9" fill-opacity="0.92"/>
<circle cx="357.00" cy="222.70" r="4.30" fill="#56B4E9" fill-opacity="0.92"/>
<circle cx="367.70" cy="238.70" r="4.20" fill="#E69F00" fill-opacity="0.92"/>
<circle cx="317.30" cy="219.70" r="4.20" fill="#56B4E9" fill-opacity="0.92"/>
<circle cx="329.30" cy="222.70" r="4.20" fill="#56B4E9" fill-opacity="0.92"/>
<circle cx="316.00" cy="231.00" r="4.50" fill="#E69F00" fill-opacity="0.92"/>
<circle cx="316.00" cy="234.00" r="4.50" fill="#E69F00" fill-opacity="0.92"/>
<circle cx="317.30" cy="249.00" r="3.80" fill="#56B4E9" fill-opacity="0.92"/>
<circle cx="274.00" cy="207.30" r="4.00" fill="#56B4E9" fill-opacity="0.92"/>
<circle cx="276.70" cy="210.00" r="4.00" fill="#56B4E9" fill-opacity="0.92"/>
<circle cx="288.70" cy="203.30" r="4.20" fill="#56B4E9" fill-opacity="0.92"/>
<circle cx="295.00" cy="199.00" r="4.00" fill="#E69F00" fill-opacity="0.92"/>
<circle cx="284.70" cy="211.70" r="4.30" fill="#56B4E9" fill-opacity="0.92"/>
<circle cx="297.70" cy="216.70" r="4.00" fill="#E69F00" fill-opacity="0.92"/>
<circle cx="270.70" cy="220.70" r="4.00" fill="#56B4E9" fill-opacity="0.92"/>
<circle cx="278.00" cy="222.70" r="4.20" fill="#56B4E9" fill-opacity="0.92"/>
<circle cx="285.00" cy="230.70" r="4.20" fill="#56B4E9" fill-opacity="0.92"/>
<circle cx="291.60" cy="227.30" r="4.20" fill="#E69F00" fill-opacity="0.92"/>
<circle cx="276.70" cy="232.70" r="4.20" fill="#E69F00" fill-opacity="0.92"/>
<circle cx="296.70" cy="231.30" r="4.20" fill="#56B4E9" fill-opacity="0.92"/>
<circle cx="301.30" cy="238.70" r="4.20" fill="#56B4E9" fill-opacity="0.92"/>
<circle cx="304.00" cy="243.30" r="4.00" fill="#E69F00" fill-opacity="0.92"/>
<circle cx="283.30" cy="253.30" r="4.20" fill="#56B4E9" fill-opacity="0.92"/>
<circle cx="270.70" cy="258.70" r="4.00" fill="#E69F00" fill-opacity="0.92"/>
<circle cx="272.00" cy="264.30" r="4.20" fill="#E69F00" fill-opacity="0.92"/>
<circle cx="270.70" cy="269.00" r="4.00" fill="#56B4E9" fill-opacity="0.92"/>
<circle cx="291.70" cy="272.00" r="4.00" fill="#56B4E9" fill-opacity="0.92"/>
<circle cx="316.70" cy="264.00" r="4.20" fill="#56B4E9" fill-opacity="0.92"/>
<circle cx="320.40" cy="272.60" r="4.20" fill="#56B4E9" fill-opacity="0.92"/>
<circle cx="329.00" cy="267.30" r="4.00" fill="#E69F00" fill-opacity="0.92"/>
<circle cx="276.40" cy="298.70" r="4.20" fill="#56B4E9" fill-opacity="0.92"/>
<circle cx="111.40" cy="124.90" r="4.00" fill="#E69F00" fill-opacity="0.92"/>
<circle cx="241.10" cy="220.40" r="4.20" fill="#56B4E9" fill-opacity="0.92"/>
<circle cx="259.50" cy="230.50" r="4.00" fill="#E69F00" fill-opacity="0.92"/>
<circle cx="262.30" cy="233.50" r="4.00" fill="#56B4E9" fill-opacity="0.92"/>
<circle cx="268.50" cy="221.00" r="4.00" fill="#56B4E9" fill-opacity="0.92"/>
<circle cx="230.60" cy="249.00" r="4.30" fill="#000" fill-opacity="0.55"/>
<circle cx="261.90" cy="242.80" r="4.20" fill="#000" fill-opacity="0.55"/>
<circle cx="265.00" cy="249.40" r="4.20" fill="#000" fill-opacity="0.55"/>
<circle cx="238.60" cy="250.50" r="3.80" fill="#000" fill-opacity="0.55"/>
<circle cx="237.40" cy="255.20" r="3.80" fill="#000" fill-opacity="0.55"/>
<circle cx="237.80" cy="260.60" r="4.50" fill="#000" fill-opacity="0.55"/>
<circle cx="237.80" cy="260.60" r="4.50" fill="#000" fill-opacity="0.55"/>
<circle cx="242.80" cy="260.60" r="3.50" fill="#000" fill-opacity="0.55"/>
<circle cx="247.50" cy="264.10" r="3.80" fill="#000" fill-opacity="0.55"/>
<circle cx="240.50" cy="266.90" r="3.80" fill="#000" fill-opacity="0.55"/>
<circle cx="247.50" cy="270.00" r="3.80" fill="#000" fill-opacity="0.55"/>
<circle cx="240.50" cy="271.50" r="3.50" fill="#000" fill-opacity="0.55"/>
<circle cx="225.40" cy="265.70" r="3.80" fill="#000" fill-opacity="0.55"/>
<circle cx="258.40" cy="275.00" r="3.80" fill="#000" fill-opacity="0.55"/>
<circle cx="265.40" cy="278.50" r="3.80" fill="#000" fill-opacity="0.55"/>
<circle cx="259.20" cy="284.30" r="3.80" fill="#000" fill-opacity="0.55"/>
<circle cx="257.60" cy="291.00" r="3.80" fill="#000" fill-opacity="0.55"/>
<circle cx="232.00" cy="281.60" r="3.50" fill="#000" fill-opacity="0.55"/>
<circle cx="225.70" cy="280.80" r="3.50" fill="#000" fill-opacity="0.55"/>
<circle cx="224.20" cy="291.00" r="3.80" fill="#000" fill-opacity="0.55"/>
<circle cx="220.30" cy="291.00" r="3.50" fill="#000" fill-opacity="0.55"/>
<circle cx="198.50" cy="271.50" r="3.80" fill="#000" fill-opacity="0.55"/>
<circle cx="205.50" cy="272.30" r="3.50" fill="#000" fill-opacity="0.55"/>
<circle cx="202.80" cy="275.40" r="3.80" fill="#000" fill-opacity="0.55"/>
<circle cx="205.50" cy="277.70" r="3.80" fill="#000" fill-opacity="0.55"/>
<circle cx="207.10" cy="283.20" r="3.80" fill="#000" fill-opacity="0.55"/>
<circle cx="203.20" cy="288.60" r="3.80" fill="#000" fill-opacity="0.55"/>
<circle cx="192.30" cy="292.50" r="3.80" fill="#000" fill-opacity="0.55"/>
<circle cx="211.70" cy="301.80" r="4.00" fill="#000" fill-opacity="0.55"/>
<circle cx="238.50" cy="316.70" r="3.50" fill="#000" fill-opacity="0.55"/>
<circle cx="219.50" cy="314.50" r="3.50" fill="#000" fill-opacity="0.55"/>
<circle cx="206.80" cy="314.80" r="3.50" fill="#000" fill-opacity="0.55"/>
<circle cx="214.30" cy="322.60" r="3.50" fill="#000" fill-opacity="0.55"/>
<circle cx="198.10" cy="298.60" r="4.00" fill="#000" fill-opacity="0.55"/>
<circle cx="191.00" cy="292.10" r="3.50" fill="#000" fill-opacity="0.55"/>
<circle cx="203.30" cy="288.90" r="3.50" fill="#000" fill-opacity="0.55"/>
<circle cx="198.00" cy="271.50" r="3.80" fill="#000" fill-opacity="0.55"/>
<circle cx="173.90" cy="282.00" r="3.80" fill="#000" fill-opacity="0.55"/>
<circle cx="172.30" cy="286.60" r="3.80" fill="#000" fill-opacity="0.55"/>
<circle cx="182.40" cy="285.80" r="3.80" fill="#000" fill-opacity="0.55"/>
<circle cx="182.80" cy="290.50" r="3.80" fill="#000" fill-opacity="0.55"/>
<circle cx="191.40" cy="292.10" r="3.80" fill="#000" fill-opacity="0.55"/>
<circle cx="149.80" cy="294.40" r="3.80" fill="#000" fill-opacity="0.55"/>
<circle cx="171.20" cy="294.40" r="3.80" fill="#000" fill-opacity="0.55"/>
<circle cx="146.70" cy="298.10" r="3.80" fill="#000" fill-opacity="0.55"/>
<circle cx="162.60" cy="303.50" r="3.80" fill="#000" fill-opacity="0.55"/>
<circle cx="168.10" cy="306.70" r="3.80" fill="#000" fill-opacity="0.55"/>
<circle cx="176.60" cy="304.30" r="3.80" fill="#000" fill-opacity="0.55"/>
<circle cx="180.50" cy="307.40" r="3.80" fill="#000" fill-opacity="0.55"/>
<circle cx="172.00" cy="298.10" r="3.80" fill="#000" fill-opacity="0.55"/>
<circle cx="178.20" cy="299.70" r="3.80" fill="#000" fill-opacity="0.55"/>
<circle cx="184.40" cy="298.10" r="3.80" fill="#000" fill-opacity="0.55"/>
<circle cx="197.60" cy="298.90" r="3.80" fill="#000" fill-opacity="0.55"/>
<circle cx="146.30" cy="309.00" r="3.80" fill="#000" fill-opacity="0.55"/>
<circle cx="143.20" cy="314.40" r="3.80" fill="#000" fill-opacity="0.55"/>
<circle cx="146.70" cy="314.80" r="3.80" fill="#000" fill-opacity="0.55"/>
<circle cx="146.30" cy="321.40" r="3.80" fill="#000" fill-opacity="0.55"/>
<circle cx="153.30" cy="314.40" r="3.80" fill="#000" fill-opacity="0.55"/>
<circle cx="155.60" cy="320.60" r="3.80" fill="#000" fill-opacity="0.55"/>
<circle cx="161.10" cy="316.80" r="3.80" fill="#000" fill-opacity="0.55"/>
<circle cx="163.40" cy="320.60" r="3.80" fill="#000" fill-opacity="0.55"/>
<circle cx="168.10" cy="323.00" r="3.80" fill="#000" fill-opacity="0.55"/>
<circle cx="169.60" cy="316.00" r="3.80" fill="#000" fill-opacity="0.55"/>
<circle cx="177.00" cy="319.10" r="3.80" fill="#000" fill-opacity="0.55"/>
<circle cx="177.40" cy="326.10" r="3.80" fill="#000" fill-opacity="0.55"/>
<circle cx="140.90" cy="326.10" r="3.80" fill="#000" fill-opacity="0.55"/>
<circle cx="133.90" cy="324.50" r="3.80" fill="#000" fill-opacity="0.55"/>
<circle cx="130.80" cy="321.40" r="3.80" fill="#000" fill-opacity="0.55"/>
<circle cx="139.30" cy="332.30" r="3.80" fill="#000" fill-opacity="0.55"/>
<circle cx="142.40" cy="333.90" r="3.80" fill="#000" fill-opacity="0.55"/>
<circle cx="149.40" cy="338.90" r="3.80" fill="#000" fill-opacity="0.55"/>
<circle cx="132.30" cy="337.00" r="3.80" fill="#000" fill-opacity="0.55"/>
<circle cx="132.30" cy="340.80" r="3.80" fill="#000" fill-opacity="0.55"/>
<circle cx="137.80" cy="344.70" r="3.80" fill="#000" fill-opacity="0.55"/>
<circle cx="141.70" cy="349.40" r="3.80" fill="#000" fill-opacity="0.55"/>
<circle cx="172.00" cy="346.70" r="3.80" fill="#000" fill-opacity="0.55"/>
<circle cx="86.70" cy="371.30" r="3.80" fill="#000" fill-opacity="0.55"/>
<circle cx="91.30" cy="369.70" r="3.80" fill="#000" fill-opacity="0.55"/>
<circle cx="93.60" cy="370.50" r="3.80" fill="#000" fill-opacity="0.55"/>
<circle cx="89.00" cy="369.00" r="3.80" fill="#000" fill-opacity="0.55"/>
<circle cx="91.70" cy="367.40" r="3.80" fill="#000" fill-opacity="0.55"/>
<circle cx="88.00" cy="371.00" r="3.80" fill="#000" fill-opacity="0.55"/>
<circle cx="90.00" cy="371.00" r="3.80" fill="#000" fill-opacity="0.55"/>
<circle cx="92.00" cy="370.00" r="3.80" fill="#000" fill-opacity="0.55"/>
<circle cx="87.00" cy="369.50" r="3.80" fill="#000" fill-opacity="0.55"/>
<circle cx="95.00" cy="369.00" r="3.80" fill="#000" fill-opacity="0.55"/>
<circle cx="96.80" cy="353.40" r="3.80" fill="#000" fill-opacity="0.55"/>
<circle cx="99.90" cy="357.30" r="3.80" fill="#000" fill-opacity="0.55"/>
<circle cx="98.30" cy="359.60" r="3.80" fill="#000" fill-opacity="0.55"/>
<circle cx="102.20" cy="352.60" r="3.80" fill="#000" fill-opacity="0.55"/>
<circle cx="104.50" cy="349.50" r="3.80" fill="#000" fill-opacity="0.55"/>
<circle cx="109.20" cy="348.00" r="3.80" fill="#000" fill-opacity="0.55"/>
<circle cx="110.70" cy="352.60" r="3.80" fill="#000" fill-opacity="0.55"/>
<circle cx="113.10" cy="357.30" r="3.80" fill="#000" fill-opacity="0.55"/>
<circle cx="107.60" cy="356.50" r="3.80" fill="#000" fill-opacity="0.55"/>
<circle cx="104.50" cy="342.50" r="3.80" fill="#000" fill-opacity="0.55"/>
<circle cx="110.70" cy="344.90" r="3.80" fill="#000" fill-opacity="0.55"/>
<circle cx="92.90" cy="360.40" r="3.80" fill="#000" fill-opacity="0.55"/>
<circle cx="100.00" cy="355.00" r="3.80" fill="#000" fill-opacity="0.55"/>
<circle cx="105.00" cy="354.00" r="3.80" fill="#000" fill-opacity="0.55"/>
<circle cx="98.00" cy="356.00" r="3.80" fill="#000" fill-opacity="0.55"/>
<circle cx="103.00" cy="358.00" r="3.80" fill="#000" fill-opacity="0.55"/>
<circle cx="108.00" cy="351.00" r="3.80" fill="#000" fill-opacity="0.55"/>
<circle cx="119.70" cy="342.10" r="3.80" fill="#000" fill-opacity="0.55"/>
<circle cx="120.80" cy="352.60" r="3.80" fill="#000" fill-opacity="0.55"/>
<circle cx="117.70" cy="358.10" r="3.80" fill="#000" fill-opacity="0.55"/>
<circle cx="119.70" cy="364.30" r="3.80" fill="#000" fill-opacity="0.55"/>
<circle cx="113.10" cy="371.70" r="3.80" fill="#000" fill-opacity="0.55"/>
<circle cx="107.60" cy="363.50" r="3.80" fill="#000" fill-opacity="0.55"/>
<circle cx="110.00" cy="333.20" r="3.80" fill="#000" fill-opacity="0.55"/>
<circle cx="116.20" cy="333.20" r="3.80" fill="#000" fill-opacity="0.55"/>
<circle cx="117.30" cy="325.00" r="3.80" fill="#000" fill-opacity="0.55"/>
<circle cx="124.70" cy="324.70" r="3.80" fill="#000" fill-opacity="0.55"/>
<circle cx="128.60" cy="323.10" r="3.80" fill="#000" fill-opacity="0.55"/>
<circle cx="126.30" cy="332.40" r="3.80" fill="#000" fill-opacity="0.55"/>
<circle cx="131.00" cy="334.00" r="3.80" fill="#000" fill-opacity="0.55"/>
<circle cx="132.50" cy="337.90" r="3.80" fill="#000" fill-opacity="0.55"/>
<circle cx="131.00" cy="341.80" r="3.80" fill="#000" fill-opacity="0.55"/>
<circle cx="135.60" cy="344.10" r="3.80" fill="#000" fill-opacity="0.55"/>
<circle cx="141.00" cy="345.60" r="3.80" fill="#000" fill-opacity="0.55"/>
<circle cx="141.80" cy="349.50" r="3.80" fill="#000" fill-opacity="0.55"/>
<circle cx="141.00" cy="333.20" r="3.80" fill="#000" fill-opacity="0.55"/>
<circle cx="137.90" cy="331.70" r="3.80" fill="#000" fill-opacity="0.55"/>
<circle cx="141.00" cy="327.00" r="3.80" fill="#000" fill-opacity="0.55"/>
<circle cx="134.80" cy="324.70" r="3.80" fill="#000" fill-opacity="0.55"/>
<circle cx="129.00" cy="353.00" r="3.80" fill="#000" fill-opacity="0.55"/>
<circle cx="97.00" cy="350.00" r="3.80" fill="#000" fill-opacity="0.55"/>
<circle cx="101.00" cy="348.00" r="3.80" fill="#000" fill-opacity="0.55"/>
<circle cx="105.00" cy="347.00" r="3.80" fill="#000" fill-opacity="0.55"/>
<circle cx="109.00" cy="349.00" r="3.80" fill="#000" fill-opacity="0.55"/>
<circle cx="113.00" cy="351.00" r="3.80" fill="#000" fill-opacity="0.55"/>
<circle cx="96.00" cy="355.00" r="3.80" fill="#000" fill-opacity="0.55"/>
<circle cx="100.00" cy="356.00" r="3.80" fill="#000" fill-opacity="0.55"/>
<circle cx="104.00" cy="354.00" r="3.80" fill="#000" fill-opacity="0.55"/>
<circle cx="108.00" cy="357.00" r="3.80" fill="#000" fill-opacity="0.55"/>
<circle cx="112.00" cy="356.00" r="3.80" fill="#000" fill-opacity="0.55"/>
<circle cx="99.00" cy="361.00" r="3.80" fill="#000" fill-opacity="0.55"/>
<circle cx="103.00" cy="361.00" r="3.80" fill="#000" fill-opacity="0.55"/>
<circle cx="107.00" cy="360.00" r="3.80" fill="#000" fill-opacity="0.55"/>
<circle cx="109.90" cy="333.10" r="3.80" fill="#000" fill-opacity="0.55"/>
<circle cx="116.00" cy="333.10" r="3.80" fill="#000" fill-opacity="0.55"/>
<circle cx="119.00" cy="340.50" r="3.80" fill="#000" fill-opacity="0.55"/>
<circle cx="120.30" cy="352.20" r="3.80" fill="#000" fill-opacity="0.55"/>
<circle cx="128.70" cy="352.80" r="3.80" fill="#000" fill-opacity="0.55"/>
<circle cx="119.60" cy="364.20" r="3.80" fill="#000" fill-opacity="0.55"/>
<circle cx="107.60" cy="363.90" r="3.80" fill="#000" fill-opacity="0.55"/>
<circle cx="92.40" cy="360.00" r="3.80" fill="#000" fill-opacity="0.55"/>
<circle cx="117.70" cy="358.70" r="3.80" fill="#000" fill-opacity="0.55"/>
<circle cx="105.40" cy="341.50" r="3.80" fill="#000" fill-opacity="0.55"/>
<circle cx="117.00" cy="325.60" r="3.80" fill="#000" fill-opacity="0.55"/>
<circle cx="123.50" cy="327.00" r="3.80" fill="#000" fill-opacity="0.55"/>
<circle cx="128.00" cy="332.80" r="3.80" fill="#000" fill-opacity="0.55"/>
<circle cx="131.90" cy="336.70" r="3.80" fill="#000" fill-opacity="0.55"/>
<circle cx="130.60" cy="341.80" r="3.80" fill="#000" fill-opacity="0.55"/>
<circle cx="131.90" cy="344.40" r="3.80" fill="#000" fill-opacity="0.55"/>
<circle cx="102.00" cy="339.00" r="3.80" fill="#000" fill-opacity="0.55"/>
<circle cx="108.00" cy="340.00" r="3.80" fill="#000" fill-opacity="0.55"/>
<circle cx="112.00" cy="343.00" r="3.80" fill="#000" fill-opacity="0.55"/>
<circle cx="149.20" cy="294.20" r="3.80" fill="#000" fill-opacity="0.55"/>
<circle cx="146.70" cy="298.20" r="3.80" fill="#000" fill-opacity="0.55"/>
<circle cx="173.40" cy="282.80" r="3.80" fill="#000" fill-opacity="0.55"/>
<circle cx="172.70" cy="287.10" r="3.80" fill="#000" fill-opacity="0.55"/>
<circle cx="182.30" cy="285.70" r="3.80" fill="#000" fill-opacity="0.55"/>
<circle cx="182.70" cy="290.70" r="3.80" fill="#000" fill-opacity="0.55"/>
<circle cx="191.30" cy="292.50" r="3.80" fill="#000" fill-opacity="0.55"/>
<circle cx="197.00" cy="298.20" r="3.80" fill="#000" fill-opacity="0.55"/>
<circle cx="197.70" cy="300.70" r="3.80" fill="#000" fill-opacity="0.55"/>
<circle cx="171.30" cy="295.00" r="3.80" fill="#000" fill-opacity="0.55"/>
<circle cx="167.70" cy="297.80" r="3.80" fill="#000" fill-opacity="0.55"/>
<circle cx="163.50" cy="302.80" r="3.80" fill="#000" fill-opacity="0.55"/>
<circle cx="168.50" cy="306.40" r="3.80" fill="#000" fill-opacity="0.55"/>
<circle cx="177.70" cy="303.50" r="3.80" fill="#000" fill-opacity="0.55"/>
<circle cx="181.30" cy="307.00" r="3.80" fill="#000" fill-opacity="0.55"/>
<circle cx="175.60" cy="298.50" r="3.80" fill="#000" fill-opacity="0.55"/>
<circle cx="184.10" cy="296.40" r="3.80" fill="#000" fill-opacity="0.55"/>
<circle cx="179.90" cy="295.00" r="3.80" fill="#000" fill-opacity="0.55"/>
<circle cx="146.00" cy="309.20" r="3.80" fill="#000" fill-opacity="0.55"/>
<circle cx="143.50" cy="314.20" r="3.80" fill="#000" fill-opacity="0.55"/>
<circle cx="147.10" cy="314.90" r="3.80" fill="#000" fill-opacity="0.55"/>
<circle cx="154.20" cy="313.50" r="3.80" fill="#000" fill-opacity="0.55"/>
<circle cx="154.90" cy="320.60" r="3.80" fill="#000" fill-opacity="0.55"/>
<circle cx="160.60" cy="317.00" r="3.80" fill="#000" fill-opacity="0.55"/>
<circle cx="168.50" cy="315.60" r="3.80" fill="#000" fill-opacity="0.55"/>
<circle cx="168.50" cy="322.70" r="3.80" fill="#000" fill-opacity="0.55"/>
<circle cx="177.00" cy="318.50" r="3.80" fill="#000" fill-opacity="0.55"/>
<circle cx="177.00" cy="325.60" r="3.80" fill="#000" fill-opacity="0.55"/>
<circle cx="140.70" cy="326.30" r="3.80" fill="#000" fill-opacity="0.55"/>
<circle cx="132.80" cy="323.40" r="3.80" fill="#000" fill-opacity="0.55"/>
<circle cx="141.40" cy="332.70" r="3.80" fill="#000" fill-opacity="0.55"/>
<circle cx="446.70" cy="68.40" r="4.30" fill="#000" fill-opacity="0.55"/>
<circle cx="451.30" cy="68.40" r="4.30" fill="#000" fill-opacity="0.55"/>
<circle cx="490.00" cy="68.40" r="4.70" fill="#000" fill-opacity="0.55"/>
<circle cx="502.70" cy="68.40" r="4.30" fill="#000" fill-opacity="0.55"/>
<circle cx="509.60" cy="68.40" r="4.30" fill="#000" fill-opacity="0.55"/>
<circle cx="522.50" cy="68.40" r="4.30" fill="#000" fill-opacity="0.55"/>
<circle cx="525.00" cy="68.40" r="4.30" fill="#000" fill-opacity="0.55"/>
<circle cx="531.70" cy="73.00" r="4.50" fill="#000" fill-opacity="0.55"/>
<circle cx="540.00" cy="68.40" r="4.30" fill="#000" fill-opacity="0.55"/>
<circle cx="550.50" cy="75.50" r="8.00" fill="#000" fill-opacity="0.55"/>
<circle cx="550.50" cy="81.00" r="6.20" fill="#000" fill-opacity="0.55"/>
<circle cx="550.50" cy="81.00" r="6.20" fill="#000" fill-opacity="0.55"/>
<circle cx="550.50" cy="84.00" r="6.20" fill="#000" fill-opacity="0.55"/>
<circle cx="550.50" cy="87.00" r="6.20" fill="#000" fill-opacity="0.55"/>
<circle cx="550.50" cy="87.00" r="6.00" fill="#000" fill-opacity="0.55"/>
<circle cx="550.50" cy="90.00" r="6.20" fill="#000" fill-opacity="0.55"/>
<circle cx="550.50" cy="93.00" r="6.20" fill="#000" fill-opacity="0.55"/>
<circle cx="550.50" cy="93.00" r="6.20" fill="#000" fill-opacity="0.55"/>
<circle cx="550.50" cy="96.00" r="6.20" fill="#000" fill-opacity="0.55"/>
<circle cx="550.50" cy="99.00" r="6.40" fill="#000" fill-opacity="0.55"/>
<circle cx="550.50" cy="99.00" r="6.40" fill="#000" fill-opacity="0.55"/>
<circle cx="550.50" cy="102.00" r="6.60" fill="#000" fill-opacity="0.55"/>
<circle cx="550.50" cy="106.30" r="8.00" fill="#000" fill-opacity="0.55"/>
<circle cx="550.50" cy="106.30" r="8.00" fill="#000" fill-opacity="0.55"/>
<circle cx="550.50" cy="106.30" r="8.00" fill="#000" fill-opacity="0.55"/>
<circle cx="550.50" cy="106.30" r="8.00" fill="#000" fill-opacity="0.55"/>
<circle cx="550.50" cy="68.40" r="7.20" fill="#000" fill-opacity="0.55"/>
<circle cx="550.50" cy="68.40" r="7.20" fill="#000" fill-opacity="0.55"/>
<circle cx="550.50" cy="68.40" r="7.20" fill="#000" fill-opacity="0.55"/>
<circle cx="550.50" cy="68.40" r="7.20" fill="#000" fill-opacity="0.55"/>
<circle cx="540.00" cy="68.40" r="4.30" fill="#000" fill-opacity="0.55"/>
<circle cx="434.70" cy="79.10" r="3.70" fill="#000" fill-opacity="0.55"/>
<circle cx="466.40" cy="79.10" r="4.20" fill="#000" fill-opacity="0.55"/>
<circle cx="482.00" cy="75.60" r="4.30" fill="#000" fill-opacity="0.55"/>
<circle cx="486.30" cy="80.40" r="4.30" fill="#000" fill-opacity="0.55"/>
<circle cx="448.40" cy="91.10" r="3.70" fill="#000" fill-opacity="0.55"/>
<circle cx="445.30" cy="103.30" r="4.50" fill="#000" fill-opacity="0.55"/>
<circle cx="443.30" cy="120.70" r="3.70" fill="#000" fill-opacity="0.55"/>
<circle cx="518.50" cy="130.20" r="5.00" fill="#000" fill-opacity="0.55"/>
<circle cx="550.70" cy="136.40" r="4.50" fill="#000" fill-opacity="0.55"/>
<circle cx="448.00" cy="134.40" r="4.20" fill="#000" fill-opacity="0.55"/>
<circle cx="436.30" cy="144.30" r="4.30" fill="#000" fill-opacity="0.55"/>
<circle cx="428.40" cy="149.00" r="4.30" fill="#000" fill-opacity="0.55"/>
<circle cx="439.00" cy="156.70" r="4.30" fill="#000" fill-opacity="0.55"/>
<circle cx="420.70" cy="174.40" r="4.30" fill="#000" fill-opacity="0.55"/>
<circle cx="511.50" cy="179.00" r="4.20" fill="#000" fill-opacity="0.55"/>
<circle cx="550.70" cy="239.30" r="4.30" fill="#000" fill-opacity="0.55"/>
<circle cx="415.60" cy="118.70" r="4.30" fill="#000" fill-opacity="0.55"/>
<circle cx="359.30" cy="129.70" r="4.00" fill="#000" fill-opacity="0.55"/>
<circle cx="362.70" cy="143.30" r="4.30" fill="#000" fill-opacity="0.55"/>
<circle cx="367.30" cy="143.30" r="4.30" fill="#000" fill-opacity="0.55"/>
<circle cx="402.00" cy="144.40" r="4.00" fill="#000" fill-opacity="0.55"/>
<circle cx="403.30" cy="154.70" r="4.50" fill="#000" fill-opacity="0.55"/>
<circle cx="334.00" cy="164.00" r="4.20" fill="#000" fill-opacity="0.55"/>
<circle cx="342.00" cy="164.40" r="4.00" fill="#000" fill-opacity="0.55"/>
<circle cx="284.00" cy="184.70" r="3.70" fill="#000" fill-opacity="0.55"/>
<circle cx="306.00" cy="186.00" r="4.20" fill="#000" fill-opacity="0.55"/>
<circle cx="318.30" cy="184.00" r="3.50" fill="#000" fill-opacity="0.55"/>
<circle cx="352.70" cy="177.30" r="4.20" fill="#000" fill-opacity="0.55"/>
<circle cx="347.30" cy="183.30" r="4.50" fill="#000" fill-opacity="0.55"/>
<circle cx="339.30" cy="185.30" r="4.20" fill="#000" fill-opacity="0.55"/>
<circle cx="327.30" cy="187.30" r="4.20" fill="#000" fill-opacity="0.55"/>
<circle cx="352.70" cy="188.70" r="4.00" fill="#000" fill-opacity="0.55"/>
<circle cx="410.70" cy="178.70" r="4.20" fill="#000" fill-opacity="0.55"/>
<circle cx="395.30" cy="185.30" r="4.20" fill="#000" fill-opacity="0.55"/>
<circle cx="318.00" cy="192.00" r="4.00" fill="#000" fill-opacity="0.55"/>
<circle cx="313.30" cy="200.70" r="4.30" fill="#000" fill-opacity="0.55"/>
<circle cx="317.30" cy="200.70" r="4.30" fill="#000" fill-opacity="0.55"/>
<circle cx="312.70" cy="206.00" r="4.00" fill="#000" fill-opacity="0.55"/>
<circle cx="354.70" cy="194.40" r="4.20" fill="#000" fill-opacity="0.55"/>
<circle cx="342.00" cy="202.70" r="4.20" fill="#000" fill-opacity="0.55"/>
<circle cx="353.70" cy="204.30" r="3.70" fill="#000" fill-opacity="0.55"/>
<circle cx="365.30" cy="197.00" r="4.50" fill="#000" fill-opacity="0.55"/>
<circle cx="390.30" cy="197.30" r="4.20" fill="#000" fill-opacity="0.55"/>
<circle cx="406.00" cy="197.00" r="4.00" fill="#000" fill-opacity="0.55"/>
<circle cx="388.70" cy="207.00" r="4.20" fill="#000" fill-opacity="0.55"/>
<circle cx="373.30" cy="212.00" r="4.20" fill="#000" fill-opacity="0.55"/>
<circle cx="350.70" cy="215.30" r="4.00" fill="#000" fill-opacity="0.55"/>
<circle cx="369.70" cy="229.60" r="4.20" fill="#000" fill-opacity="0.55"/>
<circle cx="343.70" cy="242.00" r="4.30" fill="#000" fill-opacity="0.55"/>
<circle cx="351.00" cy="248.30" r="4.50" fill="#000" fill-opacity="0.55"/>
<circle cx="323.00" cy="214.00" r="4.20" fill="#000" fill-opacity="0.55"/>
<circle cx="311.60" cy="224.00" r="4.30" fill="#000" fill-opacity="0.55"/>
<circle cx="314.70" cy="237.70" r="4.30" fill="#000" fill-opacity="0.55"/>
<circle cx="318.00" cy="254.70" r="3.80" fill="#000" fill-opacity="0.55"/>
<circle cx="292.70" cy="213.00" r="4.30" fill="#000" fill-opacity="0.55"/>
<circle cx="299.00" cy="234.40" r="4.20" fill="#000" fill-opacity="0.55"/>
<circle cx="300.40" cy="242.00" r="4.20" fill="#000" fill-opacity="0.55"/>
<circle cx="286.00" cy="242.70" r="4.20" fill="#000" fill-opacity="0.55"/>
<circle cx="284.40" cy="252.00" r="4.00" fill="#000" fill-opacity="0.55"/>
<circle cx="301.70" cy="252.70" r="4.20" fill="#000" fill-opacity="0.55"/>
<circle cx="306.70" cy="254.70" r="4.20" fill="#000" fill-opacity="0.55"/>
<circle cx="304.00" cy="261.70" r="4.00" fill="#000" fill-opacity="0.55"/>
<circle cx="225.90" cy="228.00" r="4.20" fill="#000" fill-opacity="0.55"/>
<circle cx="237.40" cy="230.70" r="3.80" fill="#000" fill-opacity="0.55"/>
<circle cx="223.40" cy="234.40" r="4.50" fill="#000" fill-opacity="0.55"/>
<line x1="265.00" y1="387.20" x2="265.00" y2="34.00" stroke="#666" stroke-width="2.2" stroke-dasharray="10 10"/>
<line x1="62.00" y1="260.20" x2="573.30" y2="260.20" stroke="#666" stroke-width="2.2" stroke-dasharray="10 10"/>
<line x1="62.00" y1="385.93" x2="573.30" y2="53.81" stroke="#626262" stroke-width="2.7" stroke-dasharray="0.1 9.9" stroke-dashoffset="9.0" stroke-linecap="square"/>
<line x1="62.30" y1="34.00" x2="62.30" y2="387.90" stroke="#000" stroke-width="1.45"/>
<line x1="61.70" y1="387.20" x2="573.30" y2="387.20" stroke="#000" stroke-width="1.45"/>
<line x1="58.80" y1="370.80" x2="62.30" y2="370.80" stroke="#000" stroke-width="1.45"/>
<text x="54.60" y="376.30" font-size="15.6" text-anchor="end" fill="#000">0</text>
<line x1="85.30" y1="387.20" x2="85.30" y2="390.70" stroke="#000" stroke-width="1.45"/>
<text x="85.30" y="407.80" font-size="15.6" text-anchor="middle" fill="#000">0</text>
<line x1="58.80" y1="276.45" x2="62.30" y2="276.45" stroke="#000" stroke-width="1.45"/>
<text x="54.60" y="281.95" font-size="15.6" text-anchor="end" fill="#000">5</text>
<line x1="230.55" y1="387.20" x2="230.55" y2="390.70" stroke="#000" stroke-width="1.45"/>
<text x="230.55" y="407.80" font-size="15.6" text-anchor="middle" fill="#000">5</text>
<line x1="58.80" y1="182.10" x2="62.30" y2="182.10" stroke="#000" stroke-width="1.45"/>
<text x="54.60" y="187.60" font-size="15.6" text-anchor="end" fill="#000">10</text>
<line x1="375.80" y1="387.20" x2="375.80" y2="390.70" stroke="#000" stroke-width="1.45"/>
<text x="375.80" y="407.80" font-size="15.6" text-anchor="middle" fill="#000">10</text>
<line x1="58.80" y1="87.75" x2="62.30" y2="87.75" stroke="#000" stroke-width="1.45"/>
<text x="54.60" y="93.25" font-size="15.6" text-anchor="end" fill="#000">15</text>
<line x1="521.05" y1="387.20" x2="521.05" y2="390.70" stroke="#000" stroke-width="1.45"/>
<text x="521.05" y="407.80" font-size="15.6" text-anchor="middle" fill="#000">15</text>
<text x="155.00" y="62.00" font-size="15.6" text-anchor="middle" fill="#6e6e6e">31</text>
<text x="329.70" y="64.00" font-size="15.6" text-anchor="middle" fill="#6e6e6e">250</text>
<text x="334.00" y="371.00" font-size="15.6" text-anchor="middle" fill="#6e6e6e">13</text>
<text x="232" y="432.7" font-size="15.6" fill="#000" letter-spacing="0.27">–log<tspan font-size="11" dy="4.6">10</tspan><tspan dy="-4.6">(mupit </tspan><tspan font-style="italic">P</tspan> value)</text>
<text transform="translate(21.9,322.6) rotate(-90)" font-size="15.6" fill="#000" letter-spacing="0.2">–log<tspan font-size="11" dy="4.6">10</tspan><tspan dy="-4.6">(DeNovo WEST </tspan><tspan font-style="italic">P</tspan> value)</text>
<circle cx="90.00" cy="10.10" r="2.00" fill="#000"/>
<circle cx="131.00" cy="10.10" r="5.80" fill="#000"/>
<circle cx="180.60" cy="10.10" r="7.60" fill="#000"/>
<text x="101.20" y="16.30" font-size="15.6" fill="#000">0</text>
<text x="144.30" y="16.30" font-size="15.6" fill="#000">50</text>
<text x="194.30" y="16.30" font-size="15.6" fill="#000">100</text>
<circle cx="246.50" cy="10.10" r="3.00" fill="#000"/>
<text x="257.20" y="16.30" font-size="15.6" fill="#000">Consensus</text>
<circle cx="353.00" cy="10.10" r="3.00" fill="#56B4E9"/>
<text x="364.60" y="16.30" font-size="15.6" fill="#000">Discordant</text>
<circle cx="458.60" cy="10.10" r="3.00" fill="#BEBEBE"/>
<text x="469.00" y="16.30" font-size="15.6" fill="#000">None</text>
<circle cx="525.50" cy="10.10" r="3.00" fill="#E69F00"/>
<text x="536.50" y="16.30" font-size="15.6" fill="#000">Novel</text>
<line x1="687.00" y1="33.70" x2="687.00" y2="386.20" stroke="#000" stroke-width="1.45"/>
<line x1="686.40" y1="385.60" x2="1200.00" y2="385.60" stroke="#000" stroke-width="1.45"/>
<line x1="683.50" y1="353.00" x2="687.00" y2="353.00" stroke="#000" stroke-width="1.45"/>
<text x="679.60" y="358.50" font-size="15.6" text-anchor="end" fill="#000">0</text>
<line x1="734.50" y1="385.60" x2="734.50" y2="389.10" stroke="#000" stroke-width="1.45"/>
<text x="734.50" y="407.90" font-size="15.6" text-anchor="middle" fill="#000">0</text>
<line x1="683.50" y1="268.65" x2="687.00" y2="268.65" stroke="#000" stroke-width="1.45"/>
<text x="679.60" y="274.15" font-size="15.6" text-anchor="end" fill="#000">5</text>
<line x1="857.25" y1="385.60" x2="857.25" y2="389.10" stroke="#000" stroke-width="1.45"/>
<text x="857.25" y="407.90" font-size="15.6" text-anchor="middle" fill="#000">5</text>
<line x1="683.50" y1="184.30" x2="687.00" y2="184.30" stroke="#000" stroke-width="1.45"/>
<text x="679.60" y="189.80" font-size="15.6" text-anchor="end" fill="#000">10</text>
<line x1="980.00" y1="385.60" x2="980.00" y2="389.10" stroke="#000" stroke-width="1.45"/>
<text x="980.00" y="407.90" font-size="15.6" text-anchor="middle" fill="#000">10</text>
<line x1="683.50" y1="99.95" x2="687.00" y2="99.95" stroke="#000" stroke-width="1.45"/>
<text x="679.60" y="105.45" font-size="15.6" text-anchor="end" fill="#000">15</text>
<line x1="1102.75" y1="385.60" x2="1102.75" y2="389.10" stroke="#000" stroke-width="1.45"/>
<text x="1102.75" y="407.90" font-size="15.6" text-anchor="middle" fill="#000">15</text>
<text x="934.00" y="429.50" font-size="15.6" text-anchor="middle" fill="#000" letter-spacing="0.6">Number of missense DNMs</text>
<text transform="translate(650.2,295) rotate(-90)" font-size="15.6" letter-spacing="0.46">Number of PTV DNMs</text>
<circle cx="725.80" cy="10.50" r="3.20" fill="#8f94bd"/>
<text x="734.20" y="16.30" font-size="15.6" fill="#000">pEnrich</text>
<circle cx="816.00" cy="10.50" r="3.20" fill="#cd8a8a"/>
<text x="825.20" y="16.30" font-size="15.6" fill="#000">pMEC</text>
<circle cx="1044.30" cy="10.30" r="3.00" fill="#808080"/>
<circle cx="1089.70" cy="10.30" r="5.70" fill="#808080"/>
<circle cx="1135.00" cy="10.30" r="7.00" fill="#808080"/>
<circle cx="1189.00" cy="10.30" r="7.80" fill="#808080"/>
<text x="1057.30" y="16.30" font-size="15.6" fill="#000">6</text>
<text x="1107.30" y="16.30" font-size="15.6" fill="#000">9</text>
<text x="1154.20" y="16.30" font-size="15.6" fill="#000">12</text>
<circle cx="906.35" cy="66.21" r="7.8" fill="rgba(43,58,126,0.55)"/>
<circle cx="906.35" cy="116.82" r="6.7" fill="rgba(43,58,126,0.55)"/>
<circle cx="832.70" cy="201.17" r="7.8" fill="rgba(43,58,126,0.55)"/>
<circle cx="857.25" cy="201.17" r="4.4" fill="rgba(43,58,126,0.55)"/>
<circle cx="783.60" cy="201.17" r="4.3" fill="rgba(43,58,126,0.55)"/>
<circle cx="857.25" cy="218.04" r="4.6" fill="rgba(43,58,126,0.55)"/>
<circle cx="759.05" cy="251.78" r="3.0" fill="rgba(43,58,126,0.55)"/>
<circle cx="881.80" cy="268.65" r="4.5" fill="rgba(43,58,126,0.55)"/>
<circle cx="906.35" cy="302.39" r="3.5" fill="rgba(43,58,126,0.55)"/>
<circle cx="980.00" cy="285.52" r="4.7" fill="rgba(43,58,126,0.55)"/>
<circle cx="1078.20" cy="353.00" r="8.2" fill="rgba(43,58,126,0.55)"/>
<circle cx="808.15" cy="353.00" r="3.1" fill="rgba(155,34,38,0.55)"/>
<circle cx="857.25" cy="353.00" r="5.0" fill="rgba(155,34,38,0.55)"/>
<circle cx="881.80" cy="353.00" r="4.0" fill="rgba(155,34,38,0.55)"/>
<circle cx="906.35" cy="353.00" r="4.0" fill="rgba(43,58,126,0.55)"/>
<circle cx="906.35" cy="353.00" r="6.2" fill="rgba(155,34,38,0.55)"/>
<circle cx="906.35" cy="353.00" r="5.2" fill="rgba(155,34,38,0.55)"/>
<circle cx="906.35" cy="353.00" r="4.5" fill="rgba(155,34,38,0.55)"/>
<circle cx="906.35" cy="353.00" r="4.8" fill="rgba(110,40,48,0.45)"/>
<circle cx="930.90" cy="353.00" r="6.0" fill="rgba(155,34,38,0.55)"/>
<circle cx="930.90" cy="353.00" r="4.2" fill="rgba(155,34,38,0.55)"/>
<circle cx="930.90" cy="353.00" r="3.5" fill="rgba(155,34,38,0.55)"/>
<circle cx="955.45" cy="353.00" r="7.3" fill="rgba(155,34,38,0.55)"/>
<circle cx="955.45" cy="353.00" r="7.0" fill="rgba(155,34,38,0.55)"/>
<circle cx="955.45" cy="353.00" r="2.0" fill="rgba(155,34,38,0.55)"/>
<circle cx="955.45" cy="336.13" r="7.7" fill="rgba(155,34,38,0.55)"/>
<circle cx="1004.55" cy="336.13" r="5.2" fill="rgba(155,34,38,0.55)"/>
<circle cx="1004.55" cy="353.00" r="7.5" fill="rgba(155,34,38,0.55)"/>
<circle cx="1029.10" cy="353.00" r="7.0" fill="rgba(155,34,38,0.55)"/>
<line x1="910.70" y1="51.00" x2="910.70" y2="63.60" stroke="#2E3A7C" stroke-width="1.25"/>
<text x="890.10" y="49.50" font-size="11.8" font-style="italic" fill="#2E3A7C" letter-spacing="0">SRRM2</text>
<line x1="915.00" y1="101.50" x2="910.20" y2="114.00" stroke="#2E3A7C" stroke-width="1.25"/>
<text x="911.90" y="96.70" font-size="11.8" font-style="italic" fill="#2E3A7C" letter-spacing="0">SPEN</text>
<line x1="819.40" y1="190.00" x2="829.00" y2="197.30" stroke="#2E3A7C" stroke-width="1.25"/>
<text x="798.10" y="187.20" font-size="11.8" font-style="italic" fill="#2E3A7C" letter-spacing="0">MSL2</text>
<line x1="859.20" y1="185.60" x2="857.60" y2="198.50" stroke="#2E3A7C" stroke-width="1.25"/>
<text x="841.80" y="184.30" font-size="11.8" font-style="italic" fill="#2E3A7C" letter-spacing="0">ZFHX4</text>
<line x1="771.40" y1="210.50" x2="780.00" y2="202.70" stroke="#2E3A7C" stroke-width="1.25"/>
<text x="740.40" y="216.70" font-size="11.8" font-style="italic" fill="#2E3A7C" letter-spacing="0">MIB1</text>
<line x1="858.20" y1="221.80" x2="858.20" y2="234.20" stroke="#2E3A7C" stroke-width="1.25"/>
<text x="838.10" y="245.50" font-size="11.8" font-style="italic" fill="#2E3A7C" letter-spacing="0">GIGYF1</text>
<line x1="762.00" y1="251.00" x2="773.70" y2="247.80" stroke="#2E3A7C" stroke-width="1.25"/>
<text x="775.30" y="251.30" font-size="11.8" font-style="italic" fill="#2E3A7C" letter-spacing="0">HNRNPD</text>
<line x1="885.40" y1="266.50" x2="894.20" y2="260.00" stroke="#2E3A7C" stroke-width="1.25"/>
<text x="894.60" y="260.60" font-size="11.8" font-style="italic" fill="#2E3A7C" letter-spacing="0">TCF7L2</text>
<line x1="904.90" y1="291.50" x2="906.40" y2="299.00" stroke="#2E3A7C" stroke-width="1.25"/>
<text x="884.50" y="289.20" font-size="11.8" font-style="italic" fill="#2E3A7C" letter-spacing="0">SATB1</text>
<text x="988.40" y="291.00" font-size="11.8" font-style="italic" fill="#2E3A7C" letter-spacing="0">ARHGAP35</text>
<line x1="1084.60" y1="338.30" x2="1078.90" y2="349.60" stroke="#2E3A7C" stroke-width="1.25"/>
<text x="1066.10" y="337.40" font-size="11.8" font-style="italic" fill="#2E3A7C" letter-spacing="0">H3-3A</text>
<line x1="800.50" y1="374.25" x2="903.20" y2="353.50" stroke="#2E3A7C" stroke-width="1.25"/>
<text x="764.80" y="378.80" font-size="11.8" font-style="italic" fill="#2E3A7C" letter-spacing="0">ARF1</text>
<line x1="796.50" y1="338.50" x2="806.40" y2="351.00" stroke="#9E2A2B" stroke-width="1.25"/>
<text x="757.40" y="335.75" font-size="11.8" font-style="italic" fill="#9E2A2B" letter-spacing="0">MMGT1</text>
<line x1="784.60" y1="362.30" x2="853.70" y2="353.20" stroke="#9E2A2B" stroke-width="1.25"/>
<text x="746.10" y="366.00" font-size="11.8" font-style="italic" fill="#9E2A2B" letter-spacing="0">AP2S1</text>
<line x1="855.90" y1="336.30" x2="878.40" y2="351.30" stroke="#9E2A2B" stroke-width="1.25"/>
<text x="817.60" y="338.50" font-size="11.8" font-style="italic" fill="#9E2A2B" letter-spacing="0">DDX23</text>
<line x1="897.70" y1="338.50" x2="902.80" y2="349.50" stroke="#9E2A2B" stroke-width="1.25"/>
<text x="876.20" y="336.70" font-size="11.8" font-style="italic" fill="#9E2A2B" letter-spacing="0">KCNK3</text>
<line x1="875.30" y1="370.60" x2="904.10" y2="354.60" stroke="#9E2A2B" stroke-width="1.25"/>
<text x="848.10" y="381.60" font-size="11.8" font-style="italic" fill="#9E2A2B" letter-spacing="0">RAB14</text>
<line x1="919.70" y1="323.50" x2="927.00" y2="349.10" stroke="#9E2A2B" stroke-width="1.25"/>
<text x="892.10" y="322.00" font-size="11.8" font-style="italic" fill="#9E2A2B" letter-spacing="0">U2AF2</text>
<line x1="914.00" y1="368.00" x2="928.00" y2="355.80" stroke="#9E2A2B" stroke-width="1.25"/>
<text x="894.10" y="378.80" font-size="11.8" font-style="italic" fill="#9E2A2B" letter-spacing="0">GNB2</text>
<line x1="948.70" y1="368.40" x2="934.10" y2="355.80" stroke="#9E2A2B" stroke-width="1.25"/>
<text x="938.00" y="378.80" font-size="11.8" font-style="italic" fill="#9E2A2B" letter-spacing="0">MFN2</text>
<line x1="947.30" y1="321.60" x2="951.60" y2="333.00" stroke="#9E2A2B" stroke-width="1.25"/>
<text x="933.10" y="318.70" font-size="11.8" font-style="italic" fill="#9E2A2B" letter-spacing="0">TFE3</text>
<line x1="980.50" y1="320.80" x2="959.50" y2="349.60" stroke="#9E2A2B" stroke-width="1.25"/>
<text x="967.40" y="317.60" font-size="11.8" font-style="italic" fill="#9E2A2B" letter-spacing="0">PSMC5</text>
<text x="961.10" y="353.10" font-size="11.8" font-style="italic" fill="#9E2A2B" letter-spacing="0">PRKAR1B</text>
<line x1="1003.30" y1="374.70" x2="959.50" y2="354.00" stroke="#9E2A2B" stroke-width="1.25"/>
<text x="1006.00" y="378.90" font-size="11.8" font-style="italic" fill="#9E2A2B" letter-spacing="0">DSP</text>
<line x1="1021.60" y1="312.50" x2="1008.90" y2="335.60" stroke="#9E2A2B" stroke-width="1.25"/>
<text x="1012.90" y="308.90" font-size="11.8" font-style="italic" fill="#9E2A2B" letter-spacing="0">UPF1</text>
<line x1="1041.60" y1="374.60" x2="1008.50" y2="354.00" stroke="#9E2A2B" stroke-width="1.25"/>
<text x="1042.60" y="378.75" font-size="11.8" font-style="italic" fill="#9E2A2B" letter-spacing="0">ATP6V0A1</text>
<line x1="1047.00" y1="325.70" x2="1033.90" y2="353.00" stroke="#9E2A2B" stroke-width="1.25"/>
<text x="1035.60" y="322.20" font-size="11.8" font-style="italic" fill="#9E2A2B" letter-spacing="0">FBXW7</text>
<line x1="80.70" y1="471.00" x2="80.70" y2="687.40" stroke="#000" stroke-width="1.45"/>
<line x1="80.00" y1="686.75" x2="564.50" y2="686.75" stroke="#000" stroke-width="1.45"/>
<line x1="77.20" y1="686.50" x2="80.70" y2="686.50" stroke="#000" stroke-width="1.45"/>
<text x="73.50" y="692.00" font-size="15.6" text-anchor="end" fill="#000">0</text>
<line x1="77.20" y1="650.90" x2="80.70" y2="650.90" stroke="#000" stroke-width="1.45"/>
<text x="73.50" y="656.40" font-size="15.6" text-anchor="end" fill="#000">25</text>
<line x1="77.20" y1="615.30" x2="80.70" y2="615.30" stroke="#000" stroke-width="1.45"/>
<text x="73.50" y="620.80" font-size="15.6" text-anchor="end" fill="#000">50</text>
<line x1="77.20" y1="579.70" x2="80.70" y2="579.70" stroke="#000" stroke-width="1.45"/>
<text x="73.50" y="585.20" font-size="15.6" text-anchor="end" fill="#000">75</text>
<line x1="77.20" y1="544.10" x2="80.70" y2="544.10" stroke="#000" stroke-width="1.45"/>
<text x="73.50" y="549.60" font-size="15.6" text-anchor="end" fill="#000">100</text>
<line x1="77.20" y1="508.50" x2="80.70" y2="508.50" stroke="#000" stroke-width="1.45"/>
<text x="73.50" y="514.00" font-size="15.6" text-anchor="end" fill="#000">125</text>
<line x1="77.20" y1="472.90" x2="80.70" y2="472.90" stroke="#000" stroke-width="1.45"/>
<text x="73.50" y="478.40" font-size="15.6" text-anchor="end" fill="#000">150</text>
<rect x="95.00" y="602.48" width="83.75" height="84.27" fill="#E69F00"/>
<rect x="95.00" y="619.57" width="83.75" height="67.18" fill="#56B4E9"/>
<rect x="95.00" y="656.60" width="83.75" height="30.15" fill="#000"/>
<rect x="188.00" y="630.96" width="83.75" height="55.79" fill="#E69F00"/>
<rect x="188.00" y="638.08" width="83.75" height="48.67" fill="#56B4E9"/>
<rect x="188.00" y="655.17" width="83.75" height="31.58" fill="#000"/>
<rect x="281.25" y="659.44" width="83.75" height="27.31" fill="#E69F00"/>
<rect x="281.25" y="663.72" width="83.75" height="23.03" fill="#56B4E9"/>
<rect x="281.25" y="670.84" width="83.75" height="15.91" fill="#000"/>
<rect x="374.25" y="655.17" width="83.75" height="31.58" fill="#E69F00"/>
<rect x="374.25" y="658.02" width="83.75" height="28.73" fill="#56B4E9"/>
<rect x="374.25" y="672.26" width="83.75" height="14.49" fill="#000"/>
<rect x="467.00" y="477.17" width="83.75" height="209.58" fill="#E69F00"/>
<rect x="467.00" y="485.72" width="83.75" height="201.03" fill="#56B4E9"/>
<rect x="467.00" y="497.11" width="83.75" height="189.64" fill="#000"/>
<text x="133.90" y="703.90" font-size="13.2" text-anchor="middle" letter-spacing="0.45">1.3 × 10<tspan font-size="9.4" dy="-4.3">−6</tspan><tspan dy="4.3"> to</tspan></text>
<text x="133.90" y="720.50" font-size="13.2" text-anchor="middle" letter-spacing="0.45">1.3 × 10<tspan font-size="9.4" dy="-4.3">−8</tspan><tspan dy="4.3"></tspan></text>
<text x="229.70" y="703.90" font-size="13.2" text-anchor="middle" letter-spacing="0.45">1.3 × 10<tspan font-size="9.4" dy="-4.3">−8</tspan><tspan dy="4.3"> to</tspan></text>
<text x="229.70" y="720.50" font-size="13.2" text-anchor="middle" letter-spacing="0.45">1.3 × 10<tspan font-size="9.4" dy="-4.3">−10</tspan><tspan dy="4.3"></tspan></text>
<text x="322.50" y="703.90" font-size="13.2" text-anchor="middle" letter-spacing="0.45">1.3 × 10<tspan font-size="9.4" dy="-4.3">−10</tspan><tspan dy="4.3"> to</tspan></text>
<text x="322.50" y="720.50" font-size="13.2" text-anchor="middle" letter-spacing="0.45">1.3 × 10<tspan font-size="9.4" dy="-4.3">−12</tspan><tspan dy="4.3"></tspan></text>
<text x="415.30" y="703.90" font-size="13.2" text-anchor="middle" letter-spacing="0.45">1.3 × 10<tspan font-size="9.4" dy="-4.3">−12</tspan><tspan dy="4.3"> to</tspan></text>
<text x="415.30" y="720.50" font-size="13.2" text-anchor="middle" letter-spacing="0.45">1 × 10<tspan font-size="9.4" dy="-4.3">−14</tspan><tspan dy="4.3"></tspan></text>
<text x="509.60" y="703.90" font-size="13.2" text-anchor="middle" letter-spacing="0.45">&lt;1 × 10<tspan font-size="9.4" dy="-4.3">−14</tspan><tspan dy="4.3"></tspan></text>
<text x="276.8" y="748.8" font-size="15.6" letter-spacing="0.45"><tspan font-style="italic">P</tspan> value bins</text>
<text transform="translate(31.8,642) rotate(-90)" font-size="15.6" letter-spacing="0.5">Number of genes</text>
<line x1="709.30" y1="469.00" x2="709.30" y2="706.60" stroke="#000" stroke-width="1.45"/>
<line x1="706.00" y1="706.00" x2="824.40" y2="706.00" stroke="#000" stroke-width="1.45"/>
<line x1="705.80" y1="706.00" x2="709.30" y2="706.00" stroke="#000" stroke-width="1.45"/>
<text x="700.80" y="711.50" font-size="15.6" text-anchor="end" fill="#000">0</text>
<line x1="705.80" y1="646.83" x2="709.30" y2="646.83" stroke="#000" stroke-width="1.45"/>
<text x="700.80" y="652.33" font-size="15.6" text-anchor="end" fill="#000">0.25</text>
<line x1="705.80" y1="587.65" x2="709.30" y2="587.65" stroke="#000" stroke-width="1.45"/>
<text x="700.80" y="593.15" font-size="15.6" text-anchor="end" fill="#000">0.50</text>
<line x1="705.80" y1="528.48" x2="709.30" y2="528.48" stroke="#000" stroke-width="1.45"/>
<text x="700.80" y="533.98" font-size="15.6" text-anchor="end" fill="#000">0.75</text>
<line x1="705.80" y1="469.30" x2="709.30" y2="469.30" stroke="#000" stroke-width="1.45"/>
<text x="700.80" y="474.80" font-size="15.6" text-anchor="end" fill="#000">1.00</text>
<rect x="714.40" y="469.30" width="105.40" height="236.70" fill="#D3D3D3"/>
<rect x="714.40" y="590.96" width="105.40" height="115.04" fill="#009E73"/>
<rect x="714.40" y="646.83" width="105.40" height="59.17" fill="#E69F00"/>
<rect x="714.40" y="648.96" width="105.40" height="57.04" fill="#56B4E9"/>
<rect x="714.40" y="654.64" width="105.40" height="51.36" fill="#000"/>
<text transform="translate(655.4,651.4) rotate(-90)" font-size="15.6" letter-spacing="0.39">Fraction of cases</text>
<line x1="972.30" y1="469.00" x2="972.30" y2="693.80" stroke="#000" stroke-width="1.45"/>
<line x1="969.20" y1="693.20" x2="1174.50" y2="693.20" stroke="#000" stroke-width="1.45"/>
<line x1="968.80" y1="693.20" x2="972.30" y2="693.20" stroke="#000" stroke-width="1.45"/>
<text x="966.80" y="698.70" font-size="15.6" text-anchor="end" fill="#000">0</text>
<line x1="968.80" y1="618.60" x2="972.30" y2="618.60" stroke="#000" stroke-width="1.45"/>
<text x="966.80" y="624.10" font-size="15.6" text-anchor="end" fill="#000">0.1</text>
<line x1="968.80" y1="544.00" x2="972.30" y2="544.00" stroke="#000" stroke-width="1.45"/>
<text x="966.80" y="549.50" font-size="15.6" text-anchor="end" fill="#000">0.2</text>
<line x1="968.80" y1="469.40" x2="972.30" y2="469.40" stroke="#000" stroke-width="1.45"/>
<text x="966.80" y="474.90" font-size="15.6" text-anchor="end" fill="#000">0.3</text>
<rect x="987.00" y="480.40" width="82.30" height="212.80" fill="#E69F00"/>
<rect x="987.00" y="487.00" width="82.30" height="206.20" fill="#56B4E9"/>
<rect x="987.00" y="505.00" width="82.30" height="188.20" fill="#000"/>
<rect x="1078.00" y="526.00" width="82.30" height="167.20" fill="#E69F00"/>
<rect x="1078.00" y="533.80" width="82.30" height="159.40" fill="#56B4E9"/>
<rect x="1078.00" y="550.40" width="82.30" height="142.80" fill="#000"/>
<text x="1027.40" y="709.90" font-size="15.6" text-anchor="middle" fill="#000">Female</text>
<text x="1121.00" y="709.90" font-size="15.6" text-anchor="middle" fill="#000">Male</text>
<text transform="translate(923.5,644.6) rotate(-90)" font-size="15.6" letter-spacing="0.46">Fraction of cases</text>
<rect x="428.30" y="752.80" width="18.60" height="18.60" fill="#D3D3D3"/>
<text x="454.00" y="768.80" font-size="15.6" fill="#000">Not de novo</text>
<rect x="569.40" y="752.80" width="18.60" height="18.60" fill="#009E73"/>
<text x="595.40" y="768.80" font-size="15.6" fill="#000">Remaining</text>
<rect x="699.00" y="752.80" width="18.60" height="18.60" fill="#E69F00"/>
<text x="725.20" y="768.80" font-size="15.6" fill="#000">Novel</text>
<rect x="790.00" y="752.80" width="18.60" height="18.60" fill="#56B4E9"/>
<text x="815.60" y="768.80" font-size="15.6" fill="#000">Discordant</text>
<rect x="921.20" y="752.80" width="18.60" height="18.60" fill="#000"/>
<text x="946.00" y="768.80" font-size="15.6" fill="#000">Consensus</text>
</svg></body></html>
